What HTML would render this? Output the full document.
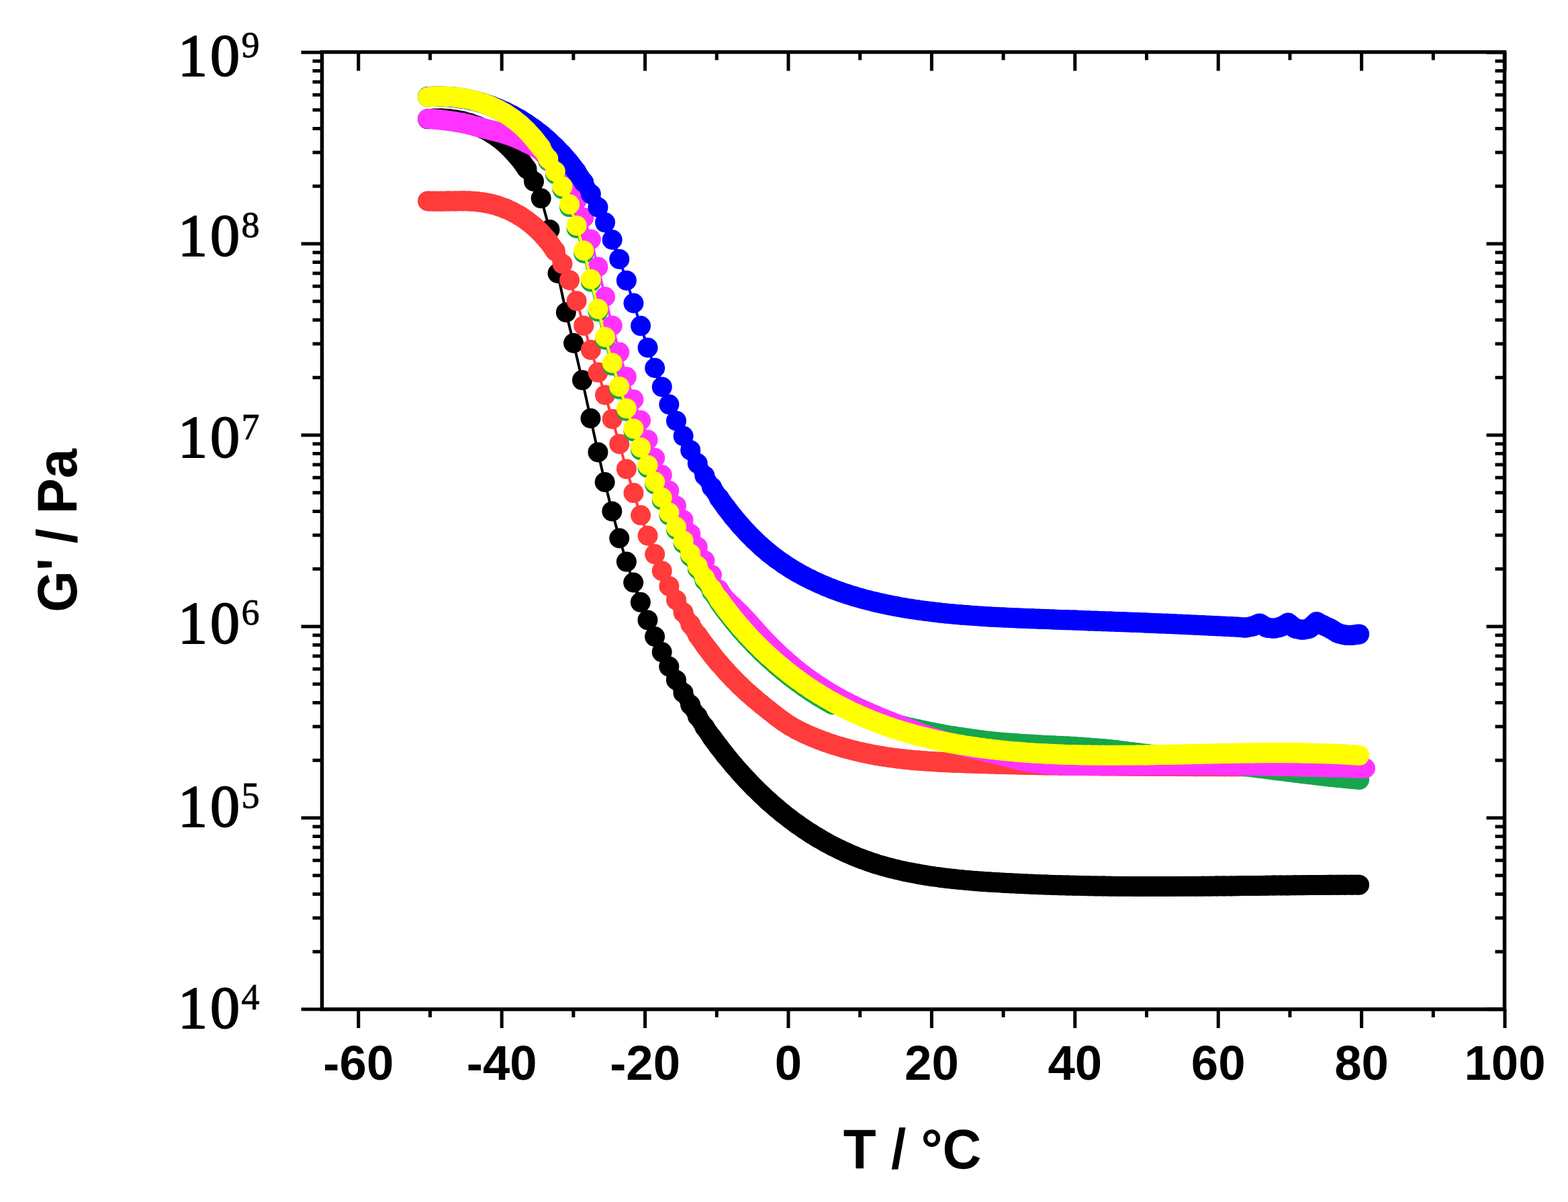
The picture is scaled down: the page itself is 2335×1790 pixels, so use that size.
<!DOCTYPE html>
<html><head><meta charset="utf-8"><title>G' vs T</title>
<style>html,body{margin:0;padding:0;background:#fff;width:2335px;height:1790px;overflow:hidden}svg{display:block}</style>
</head><body>
<svg xmlns="http://www.w3.org/2000/svg" width="2335" height="1790" viewBox="0 0 2335 1790">
<rect width="2335" height="1790" fill="#fff"/>
<g><g fill="none" stroke="#000000"><path d="M637.0,177.3L646.8,176.6" stroke-width="30.0"/><path d="M646.8,176.6L657.4,176.5" stroke-width="30.0"/><path d="M657.4,176.5L668.0,177.1" stroke-width="30.0"/><path d="M668.0,177.1L678.6,178.5" stroke-width="30.0"/><path d="M678.6,178.5L689.2,180.6" stroke-width="30.0"/><path d="M689.2,180.6L699.8,183.6" stroke-width="30.0"/><path d="M699.8,183.6L710.4,187.5" stroke-width="30.0"/><path d="M710.4,187.5L721.0,192.3" stroke-width="30.0"/><path d="M721.0,192.3L731.6,198.3" stroke-width="30.0"/><path d="M731.6,198.3L742.2,205.4" stroke-width="30.0"/><path d="M742.2,205.4L752.7,214.0" stroke-width="30.0"/><path d="M752.7,214.0L763.3,224.3" stroke-width="30.0"/><path d="M763.3,224.3L773.9,236.5" stroke-width="30.0"/><path d="M773.9,236.5L784.5,251.5" stroke-width="29.4"/><path d="M784.5,251.5L795.1,270.2" stroke-width="23.4"/><path d="M795.1,270.2L805.7,295.3" stroke-width="12.9"/><path d="M805.7,295.3L818.5,341.9" stroke-width="4.0"/><path d="M818.5,341.9L830.5,407.0" stroke-width="4.0"/><path d="M830.5,407.0L842.9,465.2" stroke-width="4.0"/><path d="M842.9,465.2L854.1,511.0" stroke-width="4.0"/><path d="M854.1,511.0L867.0,566.1" stroke-width="4.0"/><path d="M867.0,566.1L879.5,623.0" stroke-width="4.0"/><path d="M879.5,623.0L890.5,673.4" stroke-width="4.0"/><path d="M890.5,673.4L900.7,718.0" stroke-width="4.0"/><path d="M900.7,718.0L911.4,761.4" stroke-width="4.0"/><path d="M911.4,761.4L922.3,801.5" stroke-width="4.0"/><path d="M922.3,801.5L932.9,836.6" stroke-width="4.0"/><path d="M932.9,836.6L943.2,867.5" stroke-width="4.0"/><path d="M943.2,867.5L953.9,896.8" stroke-width="5.5"/><path d="M953.9,896.8L964.5,923.4" stroke-width="10.2"/><path d="M964.5,923.4L975.1,948.1" stroke-width="13.6"/><path d="M975.1,948.1L985.7,971.1" stroke-width="16.4"/><path d="M985.7,971.1L996.3,992.6" stroke-width="18.9"/><path d="M996.3,992.6L1006.9,1012.7" stroke-width="21.1"/><path d="M1006.9,1012.7L1017.5,1031.7" stroke-width="23.1"/><path d="M1017.5,1031.7L1028.1,1049.6" stroke-width="24.8"/><path d="M1028.1,1049.6L1038.7,1066.5" stroke-width="26.4"/><path d="M1038.7,1066.5L1049.3,1082.5" stroke-width="27.8"/><path d="M1049.3,1082.5L1059.8,1097.6" stroke-width="29.1"/><path d="M1059.8,1097.6L1070.4,1111.9" stroke-width="30.0"/><path d="M1070.4,1111.9L1081.0,1125.5" stroke-width="30.0"/><path d="M1081.0,1125.5L1091.6,1138.3" stroke-width="30.0"/><path d="M1091.6,1138.3L1102.2,1150.5" stroke-width="30.0"/><path d="M1102.2,1150.5L1112.8,1162.0" stroke-width="30.0"/><path d="M1112.8,1162.0L1123.4,1173.0" stroke-width="30.0"/><path d="M1123.4,1173.0L1134.0,1183.3" stroke-width="30.0"/><path d="M1134.0,1183.3L1144.6,1193.2" stroke-width="30.0"/><path d="M1144.6,1193.2L1155.2,1202.4" stroke-width="30.0"/><path d="M1155.2,1202.4L1165.8,1211.2" stroke-width="30.0"/><path d="M1165.8,1211.2L1176.4,1219.5" stroke-width="30.0"/><path d="M1176.4,1219.5L1187.0,1227.3" stroke-width="30.0"/><path d="M1187.0,1227.3L1197.6,1234.7" stroke-width="30.0"/><path d="M1197.6,1234.7L1208.2,1241.6" stroke-width="30.0"/><path d="M1208.2,1241.6L1218.8,1248.1" stroke-width="30.0"/><path d="M1218.8,1248.1L1229.4,1254.2" stroke-width="30.0"/><path d="M1229.4,1254.2L1240.0,1259.9" stroke-width="30.0"/><path d="M1240.0,1259.9L1250.6,1265.2" stroke-width="30.0"/><path d="M1250.6,1265.2L1261.2,1270.1" stroke-width="30.0"/><path d="M1261.2,1270.1L1271.8,1274.7" stroke-width="30.0"/><path d="M1271.8,1274.7L1282.3,1278.9" stroke-width="30.0"/><path d="M1282.3,1278.9L1292.9,1282.7" stroke-width="30.0"/><path d="M1292.9,1282.7L1303.5,1286.3" stroke-width="30.0"/><path d="M1303.5,1286.3L1314.1,1289.5" stroke-width="30.0"/><path d="M1314.1,1289.5L1324.7,1292.4" stroke-width="30.0"/><path d="M1324.7,1292.4L1335.3,1295.0" stroke-width="30.0"/><path d="M1335.3,1295.0L1345.9,1297.5" stroke-width="30.0"/><path d="M1345.9,1297.5L1356.5,1299.6" stroke-width="30.0"/><path d="M1356.5,1299.6L1367.1,1301.6" stroke-width="30.0"/><path d="M1367.1,1301.6L1377.7,1303.4" stroke-width="30.0"/><path d="M1377.7,1303.4L1388.3,1305.1" stroke-width="30.0"/><path d="M1388.3,1305.1L1398.9,1306.5" stroke-width="30.0"/><path d="M1398.9,1306.5L1409.5,1307.8" stroke-width="30.0"/><path d="M1409.5,1307.8L1420.1,1309.0" stroke-width="30.0"/><path d="M1420.1,1309.0L1430.7,1310.1" stroke-width="30.0"/><path d="M1430.7,1310.1L1441.3,1311.1" stroke-width="30.0"/><path d="M1441.3,1311.1L1451.9,1312.0" stroke-width="30.0"/><path d="M1451.9,1312.0L1462.5,1312.8" stroke-width="30.0"/><path d="M1462.5,1312.8L1473.1,1313.5" stroke-width="30.0"/><path d="M1473.1,1313.5L1483.7,1314.1" stroke-width="30.0"/><path d="M1483.7,1314.1L1494.2,1314.7" stroke-width="30.0"/><path d="M1494.2,1314.7L1504.8,1315.3" stroke-width="30.0"/><path d="M1504.8,1315.3L1515.4,1315.8" stroke-width="30.0"/><path d="M1515.4,1315.8L1526.0,1316.3" stroke-width="30.0"/><path d="M1526.0,1316.3L1536.6,1316.8" stroke-width="30.0"/><path d="M1536.6,1316.8L1547.2,1317.2" stroke-width="30.0"/><path d="M1547.2,1317.2L1557.8,1317.6" stroke-width="30.0"/><path d="M1557.8,1317.6L1568.4,1318.0" stroke-width="30.0"/><path d="M1568.4,1318.0L1579.0,1318.3" stroke-width="30.0"/><path d="M1579.0,1318.3L1589.6,1318.6" stroke-width="30.0"/><path d="M1589.6,1318.6L1600.2,1318.8" stroke-width="30.0"/><path d="M1600.2,1318.8L1610.8,1319.1" stroke-width="30.0"/><path d="M1610.8,1319.1L1621.4,1319.3" stroke-width="30.0"/><path d="M1621.4,1319.3L1632.0,1319.5" stroke-width="30.0"/><path d="M1632.0,1319.5L1642.6,1319.6" stroke-width="30.0"/><path d="M1642.6,1319.6L1653.2,1319.8" stroke-width="30.0"/><path d="M1653.2,1319.8L1663.8,1319.9" stroke-width="30.0"/><path d="M1663.8,1319.9L1674.4,1320.0" stroke-width="30.0"/><path d="M1674.4,1320.0L1685.0,1320.1" stroke-width="30.0"/><path d="M1685.0,1320.1L1695.6,1320.1" stroke-width="30.0"/><path d="M1695.6,1320.1L1706.1,1320.1" stroke-width="30.0"/><path d="M1706.1,1320.1L1716.7,1320.1" stroke-width="30.0"/><path d="M1716.7,1320.1L1727.3,1320.1" stroke-width="30.0"/><path d="M1727.3,1320.1L1737.9,1320.1" stroke-width="30.0"/><path d="M1737.9,1320.1L1748.5,1320.1" stroke-width="30.0"/><path d="M1748.5,1320.1L1759.1,1320.0" stroke-width="30.0"/><path d="M1759.1,1320.0L1769.7,1319.9" stroke-width="30.0"/><path d="M1769.7,1319.9L1780.3,1319.9" stroke-width="30.0"/><path d="M1780.3,1319.9L1790.9,1319.8" stroke-width="30.0"/><path d="M1790.9,1319.8L1801.5,1319.7" stroke-width="30.0"/><path d="M1801.5,1319.7L1812.1,1319.6" stroke-width="30.0"/><path d="M1812.1,1319.6L1822.7,1319.5" stroke-width="30.0"/><path d="M1822.7,1319.5L1833.3,1319.4" stroke-width="30.0"/><path d="M1833.3,1319.4L1843.9,1319.2" stroke-width="30.0"/><path d="M1843.9,1319.2L1854.5,1319.1" stroke-width="30.0"/><path d="M1854.5,1319.1L1865.1,1319.0" stroke-width="30.0"/><path d="M1865.1,1319.0L1875.7,1318.9" stroke-width="30.0"/><path d="M1875.7,1318.9L1886.3,1318.7" stroke-width="30.0"/><path d="M1886.3,1318.7L1896.9,1318.6" stroke-width="30.0"/><path d="M1896.9,1318.6L1907.5,1318.5" stroke-width="30.0"/><path d="M1907.5,1318.5L1918.0,1318.4" stroke-width="30.0"/><path d="M1918.0,1318.4L1928.6,1318.3" stroke-width="30.0"/><path d="M1928.6,1318.3L1939.2,1318.2" stroke-width="30.0"/><path d="M1939.2,1318.2L1949.8,1318.1" stroke-width="30.0"/><path d="M1949.8,1318.1L1960.4,1318.0" stroke-width="30.0"/><path d="M1960.4,1318.0L1971.0,1317.9" stroke-width="30.0"/><path d="M1971.0,1317.9L1981.6,1317.8" stroke-width="30.0"/><path d="M1981.6,1317.8L1992.2,1317.8" stroke-width="30.0"/><path d="M1992.2,1317.8L2002.8,1317.7" stroke-width="30.0"/><path d="M2002.8,1317.7L2013.4,1317.7" stroke-width="30.0"/><path d="M2013.4,1317.7L2024.0,1317.7" stroke-width="30.0"/></g><g fill="#000000"><circle cx="637.0" cy="177.3" r="15.0"/><circle cx="646.8" cy="176.6" r="15.0"/><circle cx="657.4" cy="176.5" r="15.0"/><circle cx="668.0" cy="177.1" r="15.0"/><circle cx="678.6" cy="178.5" r="15.0"/><circle cx="689.2" cy="180.6" r="15.0"/><circle cx="699.8" cy="183.6" r="15.0"/><circle cx="710.4" cy="187.5" r="15.0"/><circle cx="721.0" cy="192.3" r="15.0"/><circle cx="731.6" cy="198.3" r="15.0"/><circle cx="742.2" cy="205.4" r="15.0"/><circle cx="752.7" cy="214.0" r="15.0"/><circle cx="763.3" cy="224.3" r="15.0"/><circle cx="773.9" cy="236.5" r="15.0"/><circle cx="784.5" cy="251.5" r="15.0"/><circle cx="795.1" cy="270.2" r="15.0"/><circle cx="805.7" cy="295.3" r="15.0"/><circle cx="818.5" cy="341.9" r="15.0"/><circle cx="830.5" cy="407.0" r="15.0"/><circle cx="842.9" cy="465.2" r="15.0"/><circle cx="854.1" cy="511.0" r="15.0"/><circle cx="867.0" cy="566.1" r="15.0"/><circle cx="879.5" cy="623.0" r="15.0"/><circle cx="890.5" cy="673.4" r="15.0"/><circle cx="900.7" cy="718.0" r="15.0"/><circle cx="911.4" cy="761.4" r="15.0"/><circle cx="922.3" cy="801.5" r="15.0"/><circle cx="932.9" cy="836.6" r="15.0"/><circle cx="943.2" cy="867.5" r="15.0"/><circle cx="953.9" cy="896.8" r="15.0"/><circle cx="964.5" cy="923.4" r="15.0"/><circle cx="975.1" cy="948.1" r="15.0"/><circle cx="985.7" cy="971.1" r="15.0"/><circle cx="996.3" cy="992.6" r="15.0"/><circle cx="1006.9" cy="1012.7" r="15.0"/><circle cx="1017.5" cy="1031.7" r="15.0"/><circle cx="1028.1" cy="1049.6" r="15.0"/><circle cx="1038.7" cy="1066.5" r="15.0"/><circle cx="1049.3" cy="1082.5" r="15.0"/><circle cx="1059.8" cy="1097.6" r="15.0"/><circle cx="1070.4" cy="1111.9" r="15.0"/><circle cx="1081.0" cy="1125.5" r="15.0"/><circle cx="1091.6" cy="1138.3" r="15.0"/><circle cx="1102.2" cy="1150.5" r="15.0"/><circle cx="1112.8" cy="1162.0" r="15.0"/><circle cx="1123.4" cy="1173.0" r="15.0"/><circle cx="1134.0" cy="1183.3" r="15.0"/><circle cx="1144.6" cy="1193.2" r="15.0"/><circle cx="1155.2" cy="1202.4" r="15.0"/><circle cx="1165.8" cy="1211.2" r="15.0"/><circle cx="1176.4" cy="1219.5" r="15.0"/><circle cx="1187.0" cy="1227.3" r="15.0"/><circle cx="1197.6" cy="1234.7" r="15.0"/><circle cx="1208.2" cy="1241.6" r="15.0"/><circle cx="1218.8" cy="1248.1" r="15.0"/><circle cx="1229.4" cy="1254.2" r="15.0"/><circle cx="1240.0" cy="1259.9" r="15.0"/><circle cx="1250.6" cy="1265.2" r="15.0"/><circle cx="1261.2" cy="1270.1" r="15.0"/><circle cx="1271.8" cy="1274.7" r="15.0"/><circle cx="1282.3" cy="1278.9" r="15.0"/><circle cx="1292.9" cy="1282.7" r="15.0"/><circle cx="1303.5" cy="1286.3" r="15.0"/><circle cx="1314.1" cy="1289.5" r="15.0"/><circle cx="1324.7" cy="1292.4" r="15.0"/><circle cx="1335.3" cy="1295.0" r="15.0"/><circle cx="1345.9" cy="1297.5" r="15.0"/><circle cx="1356.5" cy="1299.6" r="15.0"/><circle cx="1367.1" cy="1301.6" r="15.0"/><circle cx="1377.7" cy="1303.4" r="15.0"/><circle cx="1388.3" cy="1305.1" r="15.0"/><circle cx="1398.9" cy="1306.5" r="15.0"/><circle cx="1409.5" cy="1307.8" r="15.0"/><circle cx="1420.1" cy="1309.0" r="15.0"/><circle cx="1430.7" cy="1310.1" r="15.0"/><circle cx="1441.3" cy="1311.1" r="15.0"/><circle cx="1451.9" cy="1312.0" r="15.0"/><circle cx="1462.5" cy="1312.8" r="15.0"/><circle cx="1473.1" cy="1313.5" r="15.0"/><circle cx="1483.7" cy="1314.1" r="15.0"/><circle cx="1494.2" cy="1314.7" r="15.0"/><circle cx="1504.8" cy="1315.3" r="15.0"/><circle cx="1515.4" cy="1315.8" r="15.0"/><circle cx="1526.0" cy="1316.3" r="15.0"/><circle cx="1536.6" cy="1316.8" r="15.0"/><circle cx="1547.2" cy="1317.2" r="15.0"/><circle cx="1557.8" cy="1317.6" r="15.0"/><circle cx="1568.4" cy="1318.0" r="15.0"/><circle cx="1579.0" cy="1318.3" r="15.0"/><circle cx="1589.6" cy="1318.6" r="15.0"/><circle cx="1600.2" cy="1318.8" r="15.0"/><circle cx="1610.8" cy="1319.1" r="15.0"/><circle cx="1621.4" cy="1319.3" r="15.0"/><circle cx="1632.0" cy="1319.5" r="15.0"/><circle cx="1642.6" cy="1319.6" r="15.0"/><circle cx="1653.2" cy="1319.8" r="15.0"/><circle cx="1663.8" cy="1319.9" r="15.0"/><circle cx="1674.4" cy="1320.0" r="15.0"/><circle cx="1685.0" cy="1320.1" r="15.0"/><circle cx="1695.6" cy="1320.1" r="15.0"/><circle cx="1706.1" cy="1320.1" r="15.0"/><circle cx="1716.7" cy="1320.1" r="15.0"/><circle cx="1727.3" cy="1320.1" r="15.0"/><circle cx="1737.9" cy="1320.1" r="15.0"/><circle cx="1748.5" cy="1320.1" r="15.0"/><circle cx="1759.1" cy="1320.0" r="15.0"/><circle cx="1769.7" cy="1319.9" r="15.0"/><circle cx="1780.3" cy="1319.9" r="15.0"/><circle cx="1790.9" cy="1319.8" r="15.0"/><circle cx="1801.5" cy="1319.7" r="15.0"/><circle cx="1812.1" cy="1319.6" r="15.0"/><circle cx="1822.7" cy="1319.5" r="15.0"/><circle cx="1833.3" cy="1319.4" r="15.0"/><circle cx="1843.9" cy="1319.2" r="15.0"/><circle cx="1854.5" cy="1319.1" r="15.0"/><circle cx="1865.1" cy="1319.0" r="15.0"/><circle cx="1875.7" cy="1318.9" r="15.0"/><circle cx="1886.3" cy="1318.7" r="15.0"/><circle cx="1896.9" cy="1318.6" r="15.0"/><circle cx="1907.5" cy="1318.5" r="15.0"/><circle cx="1918.0" cy="1318.4" r="15.0"/><circle cx="1928.6" cy="1318.3" r="15.0"/><circle cx="1939.2" cy="1318.2" r="15.0"/><circle cx="1949.8" cy="1318.1" r="15.0"/><circle cx="1960.4" cy="1318.0" r="15.0"/><circle cx="1971.0" cy="1317.9" r="15.0"/><circle cx="1981.6" cy="1317.8" r="15.0"/><circle cx="1992.2" cy="1317.8" r="15.0"/><circle cx="2002.8" cy="1317.7" r="15.0"/><circle cx="2013.4" cy="1317.7" r="15.0"/><circle cx="2024.0" cy="1317.7" r="15.0"/></g><g fill="none" stroke="#FF3B3B"><path d="M637.0,299.4L646.8,299.7" stroke-width="30.0"/><path d="M646.8,299.7L657.4,299.7" stroke-width="30.0"/><path d="M657.4,299.7L668.0,299.5" stroke-width="30.0"/><path d="M668.0,299.5L678.6,299.4" stroke-width="30.0"/><path d="M678.6,299.4L689.2,299.3" stroke-width="30.0"/><path d="M689.2,299.3L699.8,299.6" stroke-width="30.0"/><path d="M699.8,299.6L710.4,300.3" stroke-width="30.0"/><path d="M710.4,300.3L721.0,301.7" stroke-width="30.0"/><path d="M721.0,301.7L731.6,303.8" stroke-width="30.0"/><path d="M731.6,303.8L742.2,306.8" stroke-width="30.0"/><path d="M742.2,306.8L752.7,310.6" stroke-width="30.0"/><path d="M752.7,310.6L763.3,315.5" stroke-width="30.0"/><path d="M763.3,315.5L773.9,321.3" stroke-width="30.0"/><path d="M773.9,321.3L784.5,328.4" stroke-width="30.0"/><path d="M784.5,328.4L795.1,336.8" stroke-width="30.0"/><path d="M795.1,336.8L805.7,346.9" stroke-width="30.0"/><path d="M805.7,346.9L816.3,359.0" stroke-width="30.0"/><path d="M816.3,359.0L826.9,373.9" stroke-width="29.4"/><path d="M826.9,373.9L837.5,392.9" stroke-width="23.1"/><path d="M837.5,392.9L848.1,417.2" stroke-width="14.1"/><path d="M848.1,417.2L858.7,448.2" stroke-width="4.0"/><path d="M858.7,448.2L869.3,484.9" stroke-width="4.0"/><path d="M869.3,484.9L879.9,521.1" stroke-width="4.0"/><path d="M879.9,521.1L890.5,554.6" stroke-width="4.0"/><path d="M890.5,554.6L901.1,588.2" stroke-width="4.0"/><path d="M901.1,588.2L911.7,623.9" stroke-width="4.0"/><path d="M911.7,623.9L922.3,661.2" stroke-width="4.0"/><path d="M922.3,661.2L932.9,698.4" stroke-width="4.0"/><path d="M932.9,698.4L943.5,734.1" stroke-width="4.0"/><path d="M943.5,734.1L954.1,767.3" stroke-width="4.0"/><path d="M954.1,767.3L964.6,797.7" stroke-width="4.0"/><path d="M964.6,797.7L975.2,825.3" stroke-width="8.6"/><path d="M975.2,825.3L985.8,850.2" stroke-width="13.1"/><path d="M985.8,850.2L996.4,872.9" stroke-width="17.0"/><path d="M996.4,872.9L1007.0,893.4" stroke-width="20.5"/><path d="M1007.0,893.4L1017.6,912.2" stroke-width="23.3"/><path d="M1017.6,912.2L1028.2,929.6" stroke-width="25.7"/><path d="M1028.2,929.6L1038.8,945.6" stroke-width="27.7"/><path d="M1038.8,945.6L1049.4,960.5" stroke-width="29.5"/><path d="M1049.4,960.5L1060.0,974.4" stroke-width="30.0"/><path d="M1060.0,974.4L1070.6,987.4" stroke-width="30.0"/><path d="M1070.6,987.4L1081.2,999.4" stroke-width="30.0"/><path d="M1081.2,999.4L1091.8,1010.7" stroke-width="30.0"/><path d="M1091.8,1010.7L1102.4,1021.3" stroke-width="30.0"/><path d="M1102.4,1021.3L1113.0,1031.2" stroke-width="30.0"/><path d="M1113.0,1031.2L1123.6,1040.4" stroke-width="30.0"/><path d="M1123.6,1040.4L1134.2,1049.2" stroke-width="30.0"/><path d="M1134.2,1049.2L1144.8,1057.7" stroke-width="30.0"/><path d="M1144.8,1057.7L1155.4,1066.1" stroke-width="30.0"/><path d="M1155.4,1066.1L1166.0,1074.0" stroke-width="30.0"/><path d="M1166.0,1074.0L1176.5,1081.0" stroke-width="30.0"/><path d="M1176.5,1081.0L1187.1,1086.9" stroke-width="30.0"/><path d="M1187.1,1086.9L1197.7,1092.2" stroke-width="30.0"/><path d="M1197.7,1092.2L1208.3,1096.9" stroke-width="30.0"/><path d="M1208.3,1096.9L1218.9,1101.2" stroke-width="30.0"/><path d="M1218.9,1101.2L1229.5,1105.1" stroke-width="30.0"/><path d="M1229.5,1105.1L1240.1,1108.7" stroke-width="30.0"/><path d="M1240.1,1108.7L1250.7,1112.0" stroke-width="30.0"/><path d="M1250.7,1112.0L1261.3,1115.0" stroke-width="30.0"/><path d="M1261.3,1115.0L1271.9,1117.7" stroke-width="30.0"/><path d="M1271.9,1117.7L1282.5,1120.3" stroke-width="30.0"/><path d="M1282.5,1120.3L1293.1,1122.5" stroke-width="30.0"/><path d="M1293.1,1122.5L1303.7,1124.6" stroke-width="30.0"/><path d="M1303.7,1124.6L1314.3,1126.4" stroke-width="30.0"/><path d="M1314.3,1126.4L1324.9,1128.0" stroke-width="30.0"/><path d="M1324.9,1128.0L1335.5,1129.4" stroke-width="30.0"/><path d="M1335.5,1129.4L1346.1,1130.6" stroke-width="30.0"/><path d="M1346.1,1130.6L1356.7,1131.7" stroke-width="30.0"/><path d="M1356.7,1131.7L1367.3,1132.6" stroke-width="30.0"/><path d="M1367.3,1132.6L1377.9,1133.4" stroke-width="30.0"/><path d="M1377.9,1133.4L1388.4,1134.1" stroke-width="30.0"/><path d="M1388.4,1134.1L1399.0,1134.7" stroke-width="30.0"/><path d="M1399.0,1134.7L1409.6,1135.2" stroke-width="30.0"/><path d="M1409.6,1135.2L1420.2,1135.7" stroke-width="30.0"/><path d="M1420.2,1135.7L1430.8,1136.1" stroke-width="30.0"/><path d="M1430.8,1136.1L1441.4,1136.4" stroke-width="30.0"/><path d="M1441.4,1136.4L1452.0,1136.8" stroke-width="30.0"/><path d="M1452.0,1136.8L1462.6,1137.1" stroke-width="30.0"/><path d="M1462.6,1137.1L1473.2,1137.4" stroke-width="30.0"/><path d="M1473.2,1137.4L1483.8,1137.7" stroke-width="30.0"/><path d="M1483.8,1137.7L1494.4,1138.0" stroke-width="30.0"/><path d="M1494.4,1138.0L1505.0,1138.3" stroke-width="30.0"/><path d="M1505.0,1138.3L1515.6,1138.5" stroke-width="30.0"/><path d="M1515.6,1138.5L1526.2,1138.8" stroke-width="30.0"/><path d="M1526.2,1138.8L1536.8,1139.0" stroke-width="30.0"/><path d="M1536.8,1139.0L1547.4,1139.2" stroke-width="30.0"/><path d="M1547.4,1139.2L1558.0,1139.4" stroke-width="30.0"/><path d="M1558.0,1139.4L1568.6,1139.5" stroke-width="30.0"/><path d="M1568.6,1139.5L1579.2,1139.7" stroke-width="30.0"/><path d="M1579.2,1139.7L1589.8,1139.8" stroke-width="30.0"/><path d="M1589.8,1139.8L1600.3,1140.0" stroke-width="30.0"/><path d="M1600.3,1140.0L1610.9,1140.1" stroke-width="30.0"/><path d="M1610.9,1140.1L1621.5,1140.2" stroke-width="30.0"/><path d="M1621.5,1140.2L1632.1,1140.3" stroke-width="30.0"/><path d="M1632.1,1140.3L1642.7,1140.4" stroke-width="30.0"/><path d="M1642.7,1140.4L1653.3,1140.5" stroke-width="30.0"/><path d="M1653.3,1140.5L1663.9,1140.6" stroke-width="30.0"/><path d="M1663.9,1140.6L1674.5,1140.7" stroke-width="30.0"/><path d="M1674.5,1140.7L1685.1,1140.8" stroke-width="30.0"/><path d="M1685.1,1140.8L1695.7,1140.8" stroke-width="30.0"/><path d="M1695.7,1140.8L1706.3,1140.9" stroke-width="30.0"/><path d="M1706.3,1140.9L1716.9,1140.9" stroke-width="30.0"/><path d="M1716.9,1140.9L1727.5,1141.0" stroke-width="30.0"/><path d="M1727.5,1141.0L1738.1,1141.0" stroke-width="30.0"/><path d="M1738.1,1141.0L1748.7,1141.1" stroke-width="30.0"/><path d="M1748.7,1141.1L1759.3,1141.1" stroke-width="30.0"/><path d="M1759.3,1141.1L1769.9,1141.1" stroke-width="30.0"/><path d="M1769.9,1141.1L1780.5,1141.2" stroke-width="30.0"/><path d="M1780.5,1141.2L1791.1,1141.2" stroke-width="30.0"/><path d="M1791.1,1141.2L1801.7,1141.2" stroke-width="30.0"/><path d="M1801.7,1141.2L1812.2,1141.2" stroke-width="30.0"/><path d="M1812.2,1141.2L1822.8,1141.3" stroke-width="30.0"/><path d="M1822.8,1141.3L1833.4,1141.3" stroke-width="30.0"/><path d="M1833.4,1141.3L1844.0,1141.3" stroke-width="30.0"/><path d="M1844.0,1141.3L1854.6,1141.3" stroke-width="30.0"/><path d="M1854.6,1141.3L1865.2,1141.3" stroke-width="30.0"/><path d="M1865.2,1141.3L1875.8,1141.3" stroke-width="30.0"/><path d="M1875.8,1141.3L1886.4,1141.4" stroke-width="30.0"/><path d="M1886.4,1141.4L1897.0,1141.4" stroke-width="30.0"/><path d="M1897.0,1141.4L1907.6,1141.4" stroke-width="30.0"/><path d="M1907.6,1141.4L1918.2,1141.4" stroke-width="30.0"/><path d="M1918.2,1141.4L1928.8,1141.5" stroke-width="30.0"/><path d="M1928.8,1141.5L1939.4,1141.5" stroke-width="30.0"/><path d="M1939.4,1141.5L1950.0,1141.5" stroke-width="30.0"/><path d="M1950.0,1141.5L1960.6,1141.5" stroke-width="30.0"/><path d="M1960.6,1141.5L1971.2,1141.6" stroke-width="30.0"/><path d="M1971.2,1141.6L1981.8,1141.6" stroke-width="30.0"/><path d="M1981.8,1141.6L1992.4,1141.7" stroke-width="30.0"/><path d="M1992.4,1141.7L2003.0,1141.7" stroke-width="30.0"/><path d="M2003.0,1141.7L2013.6,1141.8" stroke-width="30.0"/><path d="M2013.6,1141.8L2024.1,1141.9" stroke-width="30.0"/></g><g fill="#FF3B3B"><circle cx="637.0" cy="299.4" r="15.0"/><circle cx="646.8" cy="299.7" r="15.0"/><circle cx="657.4" cy="299.7" r="15.0"/><circle cx="668.0" cy="299.5" r="15.0"/><circle cx="678.6" cy="299.4" r="15.0"/><circle cx="689.2" cy="299.3" r="15.0"/><circle cx="699.8" cy="299.6" r="15.0"/><circle cx="710.4" cy="300.3" r="15.0"/><circle cx="721.0" cy="301.7" r="15.0"/><circle cx="731.6" cy="303.8" r="15.0"/><circle cx="742.2" cy="306.8" r="15.0"/><circle cx="752.7" cy="310.6" r="15.0"/><circle cx="763.3" cy="315.5" r="15.0"/><circle cx="773.9" cy="321.3" r="15.0"/><circle cx="784.5" cy="328.4" r="15.0"/><circle cx="795.1" cy="336.8" r="15.0"/><circle cx="805.7" cy="346.9" r="15.0"/><circle cx="816.3" cy="359.0" r="15.0"/><circle cx="826.9" cy="373.9" r="15.0"/><circle cx="837.5" cy="392.9" r="15.0"/><circle cx="848.1" cy="417.2" r="15.0"/><circle cx="858.7" cy="448.2" r="15.0"/><circle cx="869.3" cy="484.9" r="15.0"/><circle cx="879.9" cy="521.1" r="15.0"/><circle cx="890.5" cy="554.6" r="15.0"/><circle cx="901.1" cy="588.2" r="15.0"/><circle cx="911.7" cy="623.9" r="15.0"/><circle cx="922.3" cy="661.2" r="15.0"/><circle cx="932.9" cy="698.4" r="15.0"/><circle cx="943.5" cy="734.1" r="15.0"/><circle cx="954.1" cy="767.3" r="15.0"/><circle cx="964.6" cy="797.7" r="15.0"/><circle cx="975.2" cy="825.3" r="15.0"/><circle cx="985.8" cy="850.2" r="15.0"/><circle cx="996.4" cy="872.9" r="15.0"/><circle cx="1007.0" cy="893.4" r="15.0"/><circle cx="1017.6" cy="912.2" r="15.0"/><circle cx="1028.2" cy="929.6" r="15.0"/><circle cx="1038.8" cy="945.6" r="15.0"/><circle cx="1049.4" cy="960.5" r="15.0"/><circle cx="1060.0" cy="974.4" r="15.0"/><circle cx="1070.6" cy="987.4" r="15.0"/><circle cx="1081.2" cy="999.4" r="15.0"/><circle cx="1091.8" cy="1010.7" r="15.0"/><circle cx="1102.4" cy="1021.3" r="15.0"/><circle cx="1113.0" cy="1031.2" r="15.0"/><circle cx="1123.6" cy="1040.4" r="15.0"/><circle cx="1134.2" cy="1049.2" r="15.0"/><circle cx="1144.8" cy="1057.7" r="15.0"/><circle cx="1155.4" cy="1066.1" r="15.0"/><circle cx="1166.0" cy="1074.0" r="15.0"/><circle cx="1176.5" cy="1081.0" r="15.0"/><circle cx="1187.1" cy="1086.9" r="15.0"/><circle cx="1197.7" cy="1092.2" r="15.0"/><circle cx="1208.3" cy="1096.9" r="15.0"/><circle cx="1218.9" cy="1101.2" r="15.0"/><circle cx="1229.5" cy="1105.1" r="15.0"/><circle cx="1240.1" cy="1108.7" r="15.0"/><circle cx="1250.7" cy="1112.0" r="15.0"/><circle cx="1261.3" cy="1115.0" r="15.0"/><circle cx="1271.9" cy="1117.7" r="15.0"/><circle cx="1282.5" cy="1120.3" r="15.0"/><circle cx="1293.1" cy="1122.5" r="15.0"/><circle cx="1303.7" cy="1124.6" r="15.0"/><circle cx="1314.3" cy="1126.4" r="15.0"/><circle cx="1324.9" cy="1128.0" r="15.0"/><circle cx="1335.5" cy="1129.4" r="15.0"/><circle cx="1346.1" cy="1130.6" r="15.0"/><circle cx="1356.7" cy="1131.7" r="15.0"/><circle cx="1367.3" cy="1132.6" r="15.0"/><circle cx="1377.9" cy="1133.4" r="15.0"/><circle cx="1388.4" cy="1134.1" r="15.0"/><circle cx="1399.0" cy="1134.7" r="15.0"/><circle cx="1409.6" cy="1135.2" r="15.0"/><circle cx="1420.2" cy="1135.7" r="15.0"/><circle cx="1430.8" cy="1136.1" r="15.0"/><circle cx="1441.4" cy="1136.4" r="15.0"/><circle cx="1452.0" cy="1136.8" r="15.0"/><circle cx="1462.6" cy="1137.1" r="15.0"/><circle cx="1473.2" cy="1137.4" r="15.0"/><circle cx="1483.8" cy="1137.7" r="15.0"/><circle cx="1494.4" cy="1138.0" r="15.0"/><circle cx="1505.0" cy="1138.3" r="15.0"/><circle cx="1515.6" cy="1138.5" r="15.0"/><circle cx="1526.2" cy="1138.8" r="15.0"/><circle cx="1536.8" cy="1139.0" r="15.0"/><circle cx="1547.4" cy="1139.2" r="15.0"/><circle cx="1558.0" cy="1139.4" r="15.0"/><circle cx="1568.6" cy="1139.5" r="15.0"/><circle cx="1579.2" cy="1139.7" r="15.0"/><circle cx="1589.8" cy="1139.8" r="15.0"/><circle cx="1600.3" cy="1140.0" r="15.0"/><circle cx="1610.9" cy="1140.1" r="15.0"/><circle cx="1621.5" cy="1140.2" r="15.0"/><circle cx="1632.1" cy="1140.3" r="15.0"/><circle cx="1642.7" cy="1140.4" r="15.0"/><circle cx="1653.3" cy="1140.5" r="15.0"/><circle cx="1663.9" cy="1140.6" r="15.0"/><circle cx="1674.5" cy="1140.7" r="15.0"/><circle cx="1685.1" cy="1140.8" r="15.0"/><circle cx="1695.7" cy="1140.8" r="15.0"/><circle cx="1706.3" cy="1140.9" r="15.0"/><circle cx="1716.9" cy="1140.9" r="15.0"/><circle cx="1727.5" cy="1141.0" r="15.0"/><circle cx="1738.1" cy="1141.0" r="15.0"/><circle cx="1748.7" cy="1141.1" r="15.0"/><circle cx="1759.3" cy="1141.1" r="15.0"/><circle cx="1769.9" cy="1141.1" r="15.0"/><circle cx="1780.5" cy="1141.2" r="15.0"/><circle cx="1791.1" cy="1141.2" r="15.0"/><circle cx="1801.7" cy="1141.2" r="15.0"/><circle cx="1812.2" cy="1141.2" r="15.0"/><circle cx="1822.8" cy="1141.3" r="15.0"/><circle cx="1833.4" cy="1141.3" r="15.0"/><circle cx="1844.0" cy="1141.3" r="15.0"/><circle cx="1854.6" cy="1141.3" r="15.0"/><circle cx="1865.2" cy="1141.3" r="15.0"/><circle cx="1875.8" cy="1141.3" r="15.0"/><circle cx="1886.4" cy="1141.4" r="15.0"/><circle cx="1897.0" cy="1141.4" r="15.0"/><circle cx="1907.6" cy="1141.4" r="15.0"/><circle cx="1918.2" cy="1141.4" r="15.0"/><circle cx="1928.8" cy="1141.5" r="15.0"/><circle cx="1939.4" cy="1141.5" r="15.0"/><circle cx="1950.0" cy="1141.5" r="15.0"/><circle cx="1960.6" cy="1141.5" r="15.0"/><circle cx="1971.2" cy="1141.6" r="15.0"/><circle cx="1981.8" cy="1141.6" r="15.0"/><circle cx="1992.4" cy="1141.7" r="15.0"/><circle cx="2003.0" cy="1141.7" r="15.0"/><circle cx="2013.6" cy="1141.8" r="15.0"/><circle cx="2024.1" cy="1141.9" r="15.0"/></g><g fill="none" stroke="#17A54B"><path d="M637.0,144.4L646.8,143.8" stroke-width="30.0"/><path d="M646.8,143.8L657.4,143.6" stroke-width="30.0"/><path d="M657.4,143.6L668.0,143.9" stroke-width="30.0"/><path d="M668.0,143.9L678.6,144.8" stroke-width="30.0"/><path d="M678.6,144.8L689.2,146.3" stroke-width="30.0"/><path d="M689.2,146.3L699.8,148.3" stroke-width="30.0"/><path d="M699.8,148.3L710.4,151.0" stroke-width="30.0"/><path d="M710.4,151.0L721.0,154.3" stroke-width="30.0"/><path d="M721.0,154.3L731.6,158.5" stroke-width="30.0"/><path d="M731.6,158.5L742.2,163.4" stroke-width="30.0"/><path d="M742.2,163.4L752.7,169.3" stroke-width="30.0"/><path d="M752.7,169.3L763.3,176.4" stroke-width="30.0"/><path d="M763.3,176.4L773.9,184.7" stroke-width="30.0"/><path d="M773.9,184.7L784.5,195.1" stroke-width="30.0"/><path d="M784.5,195.1L795.1,207.9" stroke-width="30.0"/><path d="M795.1,207.9L805.7,222.7" stroke-width="29.6"/><path d="M805.7,222.7L816.3,239.9" stroke-width="25.8"/><path d="M816.3,239.9L826.9,259.3" stroke-width="22.4"/><path d="M826.9,259.3L837.5,281.7" stroke-width="17.4"/><path d="M837.5,281.7L848.1,308.3" stroke-width="10.4"/><path d="M848.1,308.3L858.7,339.9" stroke-width="4.0"/><path d="M858.7,339.9L869.3,377.2" stroke-width="4.0"/><path d="M869.3,377.2L879.9,419.7" stroke-width="4.0"/><path d="M879.9,419.7L890.5,464.1" stroke-width="4.0"/><path d="M890.5,464.1L901.1,506.0" stroke-width="4.0"/><path d="M901.1,506.0L911.7,544.4" stroke-width="4.0"/><path d="M911.7,544.4L922.3,579.7" stroke-width="4.0"/><path d="M922.3,579.7L932.9,612.2" stroke-width="4.0"/><path d="M932.9,612.2L943.5,642.4" stroke-width="4.1"/><path d="M943.5,642.4L954.1,670.4" stroke-width="7.7"/><path d="M954.1,670.4L964.6,696.7" stroke-width="10.8"/><path d="M964.6,696.7L975.2,721.5" stroke-width="13.4"/><path d="M975.2,721.5L985.8,745.0" stroke-width="15.6"/><path d="M985.8,745.0L996.4,767.4" stroke-width="17.5"/><path d="M996.4,767.4L1007.0,788.8" stroke-width="19.1"/><path d="M1007.0,788.8L1017.6,809.2" stroke-width="20.7"/><path d="M1017.6,809.2L1028.2,828.7" stroke-width="22.3"/><path d="M1028.2,828.7L1038.8,847.1" stroke-width="24.0"/><path d="M1038.8,847.1L1049.4,864.5" stroke-width="25.6"/><path d="M1049.4,864.5L1060.0,880.9" stroke-width="27.2"/><path d="M1060.0,880.9L1070.6,896.3" stroke-width="28.7"/><path d="M1070.6,896.3L1081.2,910.8" stroke-width="30.0"/><path d="M1081.2,910.8L1091.8,924.4" stroke-width="30.0"/><path d="M1091.8,924.4L1102.4,937.1" stroke-width="30.0"/><path d="M1102.4,937.1L1113.0,949.0" stroke-width="30.0"/><path d="M1113.0,949.0L1123.6,960.2" stroke-width="30.0"/><path d="M1123.6,960.2L1134.2,970.8" stroke-width="30.0"/><path d="M1134.2,970.8L1144.8,980.7" stroke-width="30.0"/><path d="M1144.8,980.7L1155.4,990.2" stroke-width="30.0"/><path d="M1155.4,990.2L1166.0,999.1" stroke-width="30.0"/><path d="M1166.0,999.1L1176.5,1007.5" stroke-width="30.0"/><path d="M1176.5,1007.5L1187.1,1015.5" stroke-width="30.0"/><path d="M1187.1,1015.5L1197.7,1023.1" stroke-width="30.0"/><path d="M1197.7,1023.1L1208.3,1030.3" stroke-width="30.0"/><path d="M1208.3,1030.3L1218.9,1037.1" stroke-width="30.0"/><path d="M1218.9,1037.1L1229.5,1043.5" stroke-width="30.0"/><path d="M1229.5,1043.5L1240.1,1049.5" stroke-width="30.0"/><path d="M1240.1,1049.5L1250.7,1046.4" stroke-width="30.0"/><path d="M1250.7,1046.4L1261.3,1052.1" stroke-width="30.0"/><path d="M1261.3,1052.1L1271.9,1057.4" stroke-width="30.0"/><path d="M1271.9,1057.4L1282.5,1062.2" stroke-width="30.0"/><path d="M1282.5,1062.2L1293.1,1066.5" stroke-width="30.0"/><path d="M1293.1,1066.5L1303.7,1070.2" stroke-width="30.0"/><path d="M1303.7,1070.2L1314.3,1073.4" stroke-width="30.0"/><path d="M1314.3,1073.4L1324.9,1076.2" stroke-width="30.0"/><path d="M1324.9,1076.2L1335.5,1078.9" stroke-width="30.0"/><path d="M1335.5,1078.9L1346.1,1081.5" stroke-width="30.0"/><path d="M1346.1,1081.5L1356.7,1084.0" stroke-width="30.0"/><path d="M1356.7,1084.0L1367.3,1086.3" stroke-width="30.0"/><path d="M1367.3,1086.3L1377.9,1088.6" stroke-width="30.0"/><path d="M1377.9,1088.6L1388.4,1090.7" stroke-width="30.0"/><path d="M1388.4,1090.7L1399.0,1092.7" stroke-width="30.0"/><path d="M1399.0,1092.7L1409.6,1094.7" stroke-width="30.0"/><path d="M1409.6,1094.7L1420.2,1096.5" stroke-width="30.0"/><path d="M1420.2,1096.5L1430.8,1098.1" stroke-width="30.0"/><path d="M1430.8,1098.1L1441.4,1099.7" stroke-width="30.0"/><path d="M1441.4,1099.7L1452.0,1101.2" stroke-width="30.0"/><path d="M1452.0,1101.2L1462.6,1102.6" stroke-width="30.0"/><path d="M1462.6,1102.6L1473.2,1103.8" stroke-width="30.0"/><path d="M1473.2,1103.8L1483.8,1105.0" stroke-width="30.0"/><path d="M1483.8,1105.0L1494.4,1105.9" stroke-width="30.0"/><path d="M1494.4,1105.9L1505.0,1106.8" stroke-width="30.0"/><path d="M1505.0,1106.8L1515.6,1107.5" stroke-width="30.0"/><path d="M1515.6,1107.5L1526.2,1108.2" stroke-width="30.0"/><path d="M1526.2,1108.2L1536.8,1108.8" stroke-width="30.0"/><path d="M1536.8,1108.8L1547.4,1109.4" stroke-width="30.0"/><path d="M1547.4,1109.4L1558.0,1109.9" stroke-width="30.0"/><path d="M1558.0,1109.9L1568.6,1110.4" stroke-width="30.0"/><path d="M1568.6,1110.4L1579.2,1110.9" stroke-width="30.0"/><path d="M1579.2,1110.9L1589.8,1111.5" stroke-width="30.0"/><path d="M1589.8,1111.5L1600.3,1112.1" stroke-width="30.0"/><path d="M1600.3,1112.1L1610.9,1112.8" stroke-width="30.0"/><path d="M1610.9,1112.8L1621.5,1113.6" stroke-width="30.0"/><path d="M1621.5,1113.6L1632.1,1114.4" stroke-width="30.0"/><path d="M1632.1,1114.4L1642.7,1115.3" stroke-width="30.0"/><path d="M1642.7,1115.3L1653.3,1116.3" stroke-width="30.0"/><path d="M1653.3,1116.3L1663.9,1117.5" stroke-width="30.0"/><path d="M1663.9,1117.5L1674.5,1118.8" stroke-width="30.0"/><path d="M1674.5,1118.8L1685.1,1120.1" stroke-width="30.0"/><path d="M1685.1,1120.1L1695.7,1121.5" stroke-width="30.0"/><path d="M1695.7,1121.5L1706.3,1122.8" stroke-width="30.0"/><path d="M1706.3,1122.8L1716.9,1124.0" stroke-width="30.0"/><path d="M1716.9,1124.0L1727.5,1125.3" stroke-width="30.0"/><path d="M1727.5,1125.3L1738.1,1126.6" stroke-width="30.0"/><path d="M1738.1,1126.6L1748.7,1127.8" stroke-width="30.0"/><path d="M1748.7,1127.8L1759.3,1129.1" stroke-width="30.0"/><path d="M1759.3,1129.1L1769.9,1130.4" stroke-width="30.0"/><path d="M1769.9,1130.4L1780.5,1131.6" stroke-width="30.0"/><path d="M1780.5,1131.6L1791.1,1132.9" stroke-width="30.0"/><path d="M1791.1,1132.9L1801.7,1134.2" stroke-width="30.0"/><path d="M1801.7,1134.2L1812.2,1135.6" stroke-width="30.0"/><path d="M1812.2,1135.6L1822.8,1136.9" stroke-width="30.0"/><path d="M1822.8,1136.9L1833.4,1138.3" stroke-width="30.0"/><path d="M1833.4,1138.3L1844.0,1139.7" stroke-width="30.0"/><path d="M1844.0,1139.7L1854.6,1141.1" stroke-width="30.0"/><path d="M1854.6,1141.1L1865.2,1142.5" stroke-width="30.0"/><path d="M1865.2,1142.5L1875.8,1143.9" stroke-width="30.0"/><path d="M1875.8,1143.9L1886.4,1145.2" stroke-width="30.0"/><path d="M1886.4,1145.2L1897.0,1146.6" stroke-width="30.0"/><path d="M1897.0,1146.6L1907.6,1147.9" stroke-width="30.0"/><path d="M1907.6,1147.9L1918.2,1149.2" stroke-width="30.0"/><path d="M1918.2,1149.2L1928.8,1150.5" stroke-width="30.0"/><path d="M1928.8,1150.5L1939.4,1151.8" stroke-width="30.0"/><path d="M1939.4,1151.8L1950.0,1153.1" stroke-width="30.0"/><path d="M1950.0,1153.1L1960.6,1154.3" stroke-width="30.0"/><path d="M1960.6,1154.3L1971.2,1155.6" stroke-width="30.0"/><path d="M1971.2,1155.6L1981.8,1156.8" stroke-width="30.0"/><path d="M1981.8,1156.8L1992.4,1157.9" stroke-width="30.0"/><path d="M1992.4,1157.9L2003.0,1158.9" stroke-width="30.0"/><path d="M2003.0,1158.9L2013.6,1160.0" stroke-width="30.0"/><path d="M2013.6,1160.0L2024.1,1160.9" stroke-width="30.0"/></g><g fill="#17A54B"><circle cx="637.0" cy="144.4" r="15.0"/><circle cx="646.8" cy="143.8" r="15.0"/><circle cx="657.4" cy="143.6" r="15.0"/><circle cx="668.0" cy="143.9" r="15.0"/><circle cx="678.6" cy="144.8" r="15.0"/><circle cx="689.2" cy="146.3" r="15.0"/><circle cx="699.8" cy="148.3" r="15.0"/><circle cx="710.4" cy="151.0" r="15.0"/><circle cx="721.0" cy="154.3" r="15.0"/><circle cx="731.6" cy="158.5" r="15.0"/><circle cx="742.2" cy="163.4" r="15.0"/><circle cx="752.7" cy="169.3" r="15.0"/><circle cx="763.3" cy="176.4" r="15.0"/><circle cx="773.9" cy="184.7" r="15.0"/><circle cx="784.5" cy="195.1" r="15.0"/><circle cx="795.1" cy="207.9" r="15.0"/><circle cx="805.7" cy="222.7" r="15.0"/><circle cx="816.3" cy="239.9" r="15.0"/><circle cx="826.9" cy="259.3" r="15.0"/><circle cx="837.5" cy="281.7" r="15.0"/><circle cx="848.1" cy="308.3" r="15.0"/><circle cx="858.7" cy="339.9" r="15.0"/><circle cx="869.3" cy="377.2" r="15.0"/><circle cx="879.9" cy="419.7" r="15.0"/><circle cx="890.5" cy="464.1" r="15.0"/><circle cx="901.1" cy="506.0" r="15.0"/><circle cx="911.7" cy="544.4" r="15.0"/><circle cx="922.3" cy="579.7" r="15.0"/><circle cx="932.9" cy="612.2" r="15.0"/><circle cx="943.5" cy="642.4" r="15.0"/><circle cx="954.1" cy="670.4" r="15.0"/><circle cx="964.6" cy="696.7" r="15.0"/><circle cx="975.2" cy="721.5" r="15.0"/><circle cx="985.8" cy="745.0" r="15.0"/><circle cx="996.4" cy="767.4" r="15.0"/><circle cx="1007.0" cy="788.8" r="15.0"/><circle cx="1017.6" cy="809.2" r="15.0"/><circle cx="1028.2" cy="828.7" r="15.0"/><circle cx="1038.8" cy="847.1" r="15.0"/><circle cx="1049.4" cy="864.5" r="15.0"/><circle cx="1060.0" cy="880.9" r="15.0"/><circle cx="1070.6" cy="896.3" r="15.0"/><circle cx="1081.2" cy="910.8" r="15.0"/><circle cx="1091.8" cy="924.4" r="15.0"/><circle cx="1102.4" cy="937.1" r="15.0"/><circle cx="1113.0" cy="949.0" r="15.0"/><circle cx="1123.6" cy="960.2" r="15.0"/><circle cx="1134.2" cy="970.8" r="15.0"/><circle cx="1144.8" cy="980.7" r="15.0"/><circle cx="1155.4" cy="990.2" r="15.0"/><circle cx="1166.0" cy="999.1" r="15.0"/><circle cx="1176.5" cy="1007.5" r="15.0"/><circle cx="1187.1" cy="1015.5" r="15.0"/><circle cx="1197.7" cy="1023.1" r="15.0"/><circle cx="1208.3" cy="1030.3" r="15.0"/><circle cx="1218.9" cy="1037.1" r="15.0"/><circle cx="1229.5" cy="1043.5" r="15.0"/><circle cx="1240.1" cy="1049.5" r="15.0"/><circle cx="1250.7" cy="1046.4" r="15.0"/><circle cx="1261.3" cy="1052.1" r="15.0"/><circle cx="1271.9" cy="1057.4" r="15.0"/><circle cx="1282.5" cy="1062.2" r="15.0"/><circle cx="1293.1" cy="1066.5" r="15.0"/><circle cx="1303.7" cy="1070.2" r="15.0"/><circle cx="1314.3" cy="1073.4" r="15.0"/><circle cx="1324.9" cy="1076.2" r="15.0"/><circle cx="1335.5" cy="1078.9" r="15.0"/><circle cx="1346.1" cy="1081.5" r="15.0"/><circle cx="1356.7" cy="1084.0" r="15.0"/><circle cx="1367.3" cy="1086.3" r="15.0"/><circle cx="1377.9" cy="1088.6" r="15.0"/><circle cx="1388.4" cy="1090.7" r="15.0"/><circle cx="1399.0" cy="1092.7" r="15.0"/><circle cx="1409.6" cy="1094.7" r="15.0"/><circle cx="1420.2" cy="1096.5" r="15.0"/><circle cx="1430.8" cy="1098.1" r="15.0"/><circle cx="1441.4" cy="1099.7" r="15.0"/><circle cx="1452.0" cy="1101.2" r="15.0"/><circle cx="1462.6" cy="1102.6" r="15.0"/><circle cx="1473.2" cy="1103.8" r="15.0"/><circle cx="1483.8" cy="1105.0" r="15.0"/><circle cx="1494.4" cy="1105.9" r="15.0"/><circle cx="1505.0" cy="1106.8" r="15.0"/><circle cx="1515.6" cy="1107.5" r="15.0"/><circle cx="1526.2" cy="1108.2" r="15.0"/><circle cx="1536.8" cy="1108.8" r="15.0"/><circle cx="1547.4" cy="1109.4" r="15.0"/><circle cx="1558.0" cy="1109.9" r="15.0"/><circle cx="1568.6" cy="1110.4" r="15.0"/><circle cx="1579.2" cy="1110.9" r="15.0"/><circle cx="1589.8" cy="1111.5" r="15.0"/><circle cx="1600.3" cy="1112.1" r="15.0"/><circle cx="1610.9" cy="1112.8" r="15.0"/><circle cx="1621.5" cy="1113.6" r="15.0"/><circle cx="1632.1" cy="1114.4" r="15.0"/><circle cx="1642.7" cy="1115.3" r="15.0"/><circle cx="1653.3" cy="1116.3" r="15.0"/><circle cx="1663.9" cy="1117.5" r="15.0"/><circle cx="1674.5" cy="1118.8" r="15.0"/><circle cx="1685.1" cy="1120.1" r="15.0"/><circle cx="1695.7" cy="1121.5" r="15.0"/><circle cx="1706.3" cy="1122.8" r="15.0"/><circle cx="1716.9" cy="1124.0" r="15.0"/><circle cx="1727.5" cy="1125.3" r="15.0"/><circle cx="1738.1" cy="1126.6" r="15.0"/><circle cx="1748.7" cy="1127.8" r="15.0"/><circle cx="1759.3" cy="1129.1" r="15.0"/><circle cx="1769.9" cy="1130.4" r="15.0"/><circle cx="1780.5" cy="1131.6" r="15.0"/><circle cx="1791.1" cy="1132.9" r="15.0"/><circle cx="1801.7" cy="1134.2" r="15.0"/><circle cx="1812.2" cy="1135.6" r="15.0"/><circle cx="1822.8" cy="1136.9" r="15.0"/><circle cx="1833.4" cy="1138.3" r="15.0"/><circle cx="1844.0" cy="1139.7" r="15.0"/><circle cx="1854.6" cy="1141.1" r="15.0"/><circle cx="1865.2" cy="1142.5" r="15.0"/><circle cx="1875.8" cy="1143.9" r="15.0"/><circle cx="1886.4" cy="1145.2" r="15.0"/><circle cx="1897.0" cy="1146.6" r="15.0"/><circle cx="1907.6" cy="1147.9" r="15.0"/><circle cx="1918.2" cy="1149.2" r="15.0"/><circle cx="1928.8" cy="1150.5" r="15.0"/><circle cx="1939.4" cy="1151.8" r="15.0"/><circle cx="1950.0" cy="1153.1" r="15.0"/><circle cx="1960.6" cy="1154.3" r="15.0"/><circle cx="1971.2" cy="1155.6" r="15.0"/><circle cx="1981.8" cy="1156.8" r="15.0"/><circle cx="1992.4" cy="1157.9" r="15.0"/><circle cx="2003.0" cy="1158.9" r="15.0"/><circle cx="2013.6" cy="1160.0" r="15.0"/><circle cx="2024.1" cy="1160.9" r="15.0"/></g><g fill="none" stroke="#FF33FF"><path d="M637.0,177.0L646.8,177.5" stroke-width="30.0"/><path d="M646.8,177.5L657.4,178.6" stroke-width="30.0"/><path d="M657.4,178.6L668.0,179.9" stroke-width="30.0"/><path d="M668.0,179.9L678.6,181.5" stroke-width="30.0"/><path d="M678.6,181.5L689.2,183.3" stroke-width="30.0"/><path d="M689.2,183.3L699.8,185.7" stroke-width="30.0"/><path d="M699.8,185.7L710.4,188.6" stroke-width="30.0"/><path d="M710.4,188.6L721.0,191.4" stroke-width="30.0"/><path d="M721.0,191.4L731.6,194.0" stroke-width="30.0"/><path d="M731.6,194.0L742.2,196.7" stroke-width="30.0"/><path d="M742.2,196.7L752.7,199.7" stroke-width="30.0"/><path d="M752.7,199.7L763.3,203.2" stroke-width="30.0"/><path d="M763.3,203.2L773.9,207.7" stroke-width="30.0"/><path d="M773.9,207.7L784.5,212.8" stroke-width="30.0"/><path d="M784.5,212.8L795.1,217.9" stroke-width="30.0"/><path d="M795.1,217.9L805.7,224.5" stroke-width="30.0"/><path d="M805.7,224.5L816.3,235.5" stroke-width="30.0"/><path d="M816.3,235.5L826.9,249.7" stroke-width="30.0"/><path d="M826.9,249.7L837.5,265.7" stroke-width="27.8"/><path d="M837.5,265.7L848.1,281.3" stroke-width="28.4"/><path d="M848.1,281.3L858.7,298.4" stroke-width="26.0"/><path d="M858.7,298.4L869.3,323.9" stroke-width="12.1"/><path d="M869.3,323.9L879.9,356.6" stroke-width="4.0"/><path d="M879.9,356.6L890.5,397.5" stroke-width="4.0"/><path d="M890.5,397.5L901.1,442.0" stroke-width="4.0"/><path d="M901.1,442.0L911.7,484.9" stroke-width="4.0"/><path d="M911.7,484.9L922.3,524.6" stroke-width="4.0"/><path d="M922.3,524.6L932.9,561.3" stroke-width="4.0"/><path d="M932.9,561.3L943.5,595.0" stroke-width="4.0"/><path d="M943.5,595.0L954.1,626.0" stroke-width="4.0"/><path d="M954.1,626.0L964.6,654.9" stroke-width="6.4"/><path d="M964.6,654.9L975.2,682.0" stroke-width="9.4"/><path d="M975.2,682.0L985.8,707.3" stroke-width="12.5"/><path d="M985.8,707.3L996.4,730.8" stroke-width="15.5"/><path d="M996.4,730.8L1007.0,753.2" stroke-width="17.5"/><path d="M1007.0,753.2L1017.6,774.4" stroke-width="19.3"/><path d="M1017.6,774.4L1028.2,794.9" stroke-width="20.6"/><path d="M1028.2,794.9L1038.8,814.5" stroke-width="22.0"/><path d="M1038.8,814.5L1049.4,834.8" stroke-width="21.0"/><path d="M1049.4,834.8L1060.0,856.3" stroke-width="18.8"/><path d="M1060.0,856.3L1070.6,878.3" stroke-width="18.2"/><path d="M1070.6,878.3L1081.2,893.5" stroke-width="29.0"/><path d="M1081.2,893.5L1091.8,903.4" stroke-width="30.0"/><path d="M1091.8,903.4L1102.4,913.5" stroke-width="30.0"/><path d="M1102.4,913.5L1113.0,924.9" stroke-width="30.0"/><path d="M1113.0,924.9L1123.6,936.8" stroke-width="30.0"/><path d="M1123.6,936.8L1134.2,948.6" stroke-width="30.0"/><path d="M1134.2,948.6L1144.8,959.8" stroke-width="30.0"/><path d="M1144.8,959.8L1155.4,970.1" stroke-width="30.0"/><path d="M1155.4,970.1L1166.0,979.9" stroke-width="30.0"/><path d="M1166.0,979.9L1176.5,989.2" stroke-width="30.0"/><path d="M1176.5,989.2L1187.1,998.1" stroke-width="30.0"/><path d="M1187.1,998.1L1197.7,1006.3" stroke-width="30.0"/><path d="M1197.7,1006.3L1208.3,1014.0" stroke-width="30.0"/><path d="M1208.3,1014.0L1218.9,1021.2" stroke-width="30.0"/><path d="M1218.9,1021.2L1229.5,1028.0" stroke-width="30.0"/><path d="M1229.5,1028.0L1240.1,1034.4" stroke-width="30.0"/><path d="M1240.1,1034.4L1250.7,1040.4" stroke-width="30.0"/><path d="M1250.7,1040.4L1261.3,1046.0" stroke-width="30.0"/><path d="M1261.3,1046.0L1271.9,1051.2" stroke-width="30.0"/><path d="M1271.9,1051.2L1282.5,1056.2" stroke-width="30.0"/><path d="M1282.5,1056.2L1293.1,1061.0" stroke-width="30.0"/><path d="M1293.1,1061.0L1303.7,1065.6" stroke-width="30.0"/><path d="M1303.7,1065.6L1314.3,1070.0" stroke-width="30.0"/><path d="M1314.3,1070.0L1324.9,1074.3" stroke-width="30.0"/><path d="M1324.9,1074.3L1335.5,1078.5" stroke-width="30.0"/><path d="M1335.5,1078.5L1346.1,1082.5" stroke-width="30.0"/><path d="M1346.1,1082.5L1356.7,1086.5" stroke-width="30.0"/><path d="M1356.7,1086.5L1367.3,1090.6" stroke-width="30.0"/><path d="M1367.3,1090.6L1377.9,1094.5" stroke-width="30.0"/><path d="M1377.9,1094.5L1388.4,1098.3" stroke-width="30.0"/><path d="M1388.4,1098.3L1399.0,1101.7" stroke-width="30.0"/><path d="M1399.0,1101.7L1409.6,1104.8" stroke-width="30.0"/><path d="M1409.6,1104.8L1420.2,1107.6" stroke-width="30.0"/><path d="M1420.2,1107.6L1430.8,1110.2" stroke-width="30.0"/><path d="M1430.8,1110.2L1441.4,1112.9" stroke-width="30.0"/><path d="M1441.4,1112.9L1452.0,1115.5" stroke-width="30.0"/><path d="M1452.0,1115.5L1462.6,1118.2" stroke-width="30.0"/><path d="M1462.6,1118.2L1473.2,1120.9" stroke-width="30.0"/><path d="M1473.2,1120.9L1483.8,1123.5" stroke-width="30.0"/><path d="M1483.8,1123.5L1494.4,1126.1" stroke-width="30.0"/><path d="M1494.4,1126.1L1505.0,1128.8" stroke-width="30.0"/><path d="M1505.0,1128.8L1515.6,1131.5" stroke-width="30.0"/><path d="M1515.6,1131.5L1526.2,1133.8" stroke-width="30.0"/><path d="M1526.2,1133.8L1536.8,1135.6" stroke-width="30.0"/><path d="M1536.8,1135.6L1547.4,1136.8" stroke-width="30.0"/><path d="M1547.4,1136.8L1558.0,1137.8" stroke-width="30.0"/><path d="M1558.0,1137.8L1568.6,1138.7" stroke-width="30.0"/><path d="M1568.6,1138.7L1579.2,1139.4" stroke-width="30.0"/><path d="M1579.2,1139.4L1589.8,1139.8" stroke-width="30.0"/><path d="M1589.8,1139.8L1600.3,1140.0" stroke-width="30.0"/><path d="M1600.3,1140.0L1610.9,1140.0" stroke-width="30.0"/><path d="M1610.9,1140.0L1621.5,1140.0" stroke-width="30.0"/><path d="M1621.5,1140.0L1632.1,1140.0" stroke-width="30.0"/><path d="M1632.1,1140.0L1642.7,1139.9" stroke-width="30.0"/><path d="M1642.7,1139.9L1653.3,1139.9" stroke-width="30.0"/><path d="M1653.3,1139.9L1663.9,1139.9" stroke-width="30.0"/><path d="M1663.9,1139.9L1674.5,1139.8" stroke-width="30.0"/><path d="M1674.5,1139.8L1685.1,1139.8" stroke-width="30.0"/><path d="M1685.1,1139.8L1695.7,1139.7" stroke-width="30.0"/><path d="M1695.7,1139.7L1706.3,1139.7" stroke-width="30.0"/><path d="M1706.3,1139.7L1716.9,1139.6" stroke-width="30.0"/><path d="M1716.9,1139.6L1727.5,1139.6" stroke-width="30.0"/><path d="M1727.5,1139.6L1738.1,1139.6" stroke-width="30.0"/><path d="M1738.1,1139.6L1748.7,1139.5" stroke-width="30.0"/><path d="M1748.7,1139.5L1759.3,1139.5" stroke-width="30.0"/><path d="M1759.3,1139.5L1769.9,1139.5" stroke-width="30.0"/><path d="M1769.9,1139.5L1780.5,1139.5" stroke-width="30.0"/><path d="M1780.5,1139.5L1791.1,1139.5" stroke-width="30.0"/><path d="M1791.1,1139.5L1801.7,1139.5" stroke-width="30.0"/><path d="M1801.7,1139.5L1812.2,1139.6" stroke-width="30.0"/><path d="M1812.2,1139.6L1822.8,1139.7" stroke-width="30.0"/><path d="M1822.8,1139.7L1833.4,1139.8" stroke-width="30.0"/><path d="M1833.4,1139.8L1844.0,1139.9" stroke-width="30.0"/><path d="M1844.0,1139.9L1854.6,1140.0" stroke-width="30.0"/><path d="M1854.6,1140.0L1865.2,1140.1" stroke-width="30.0"/><path d="M1865.2,1140.1L1875.8,1140.3" stroke-width="30.0"/><path d="M1875.8,1140.3L1886.4,1140.5" stroke-width="30.0"/><path d="M1886.4,1140.5L1897.0,1140.6" stroke-width="30.0"/><path d="M1897.0,1140.6L1907.6,1140.8" stroke-width="30.0"/><path d="M1907.6,1140.8L1918.2,1141.0" stroke-width="30.0"/><path d="M1918.2,1141.0L1928.8,1141.3" stroke-width="30.0"/><path d="M1928.8,1141.3L1939.4,1141.5" stroke-width="30.0"/><path d="M1939.4,1141.5L1950.0,1141.8" stroke-width="30.0"/><path d="M1950.0,1141.8L1960.6,1142.0" stroke-width="30.0"/><path d="M1960.6,1142.0L1971.2,1142.3" stroke-width="30.0"/><path d="M1971.2,1142.3L1981.8,1142.6" stroke-width="30.0"/><path d="M1981.8,1142.6L1992.4,1142.8" stroke-width="30.0"/><path d="M1992.4,1142.8L2003.0,1143.1" stroke-width="30.0"/><path d="M2003.0,1143.1L2013.6,1143.4" stroke-width="30.0"/><path d="M2013.6,1143.4L2024.1,1143.7" stroke-width="30.0"/><path d="M2024.1,1143.7L2033.0,1144.0" stroke-width="30.0"/></g><g fill="#FF33FF"><circle cx="637.0" cy="177.0" r="15.0"/><circle cx="646.8" cy="177.5" r="15.0"/><circle cx="657.4" cy="178.6" r="15.0"/><circle cx="668.0" cy="179.9" r="15.0"/><circle cx="678.6" cy="181.5" r="15.0"/><circle cx="689.2" cy="183.3" r="15.0"/><circle cx="699.8" cy="185.7" r="15.0"/><circle cx="710.4" cy="188.6" r="15.0"/><circle cx="721.0" cy="191.4" r="15.0"/><circle cx="731.6" cy="194.0" r="15.0"/><circle cx="742.2" cy="196.7" r="15.0"/><circle cx="752.7" cy="199.7" r="15.0"/><circle cx="763.3" cy="203.2" r="15.0"/><circle cx="773.9" cy="207.7" r="15.0"/><circle cx="784.5" cy="212.8" r="15.0"/><circle cx="795.1" cy="217.9" r="15.0"/><circle cx="805.7" cy="224.5" r="15.0"/><circle cx="816.3" cy="235.5" r="15.0"/><circle cx="826.9" cy="249.7" r="15.0"/><circle cx="837.5" cy="265.7" r="15.0"/><circle cx="848.1" cy="281.3" r="15.0"/><circle cx="858.7" cy="298.4" r="15.0"/><circle cx="869.3" cy="323.9" r="15.0"/><circle cx="879.9" cy="356.6" r="15.0"/><circle cx="890.5" cy="397.5" r="15.0"/><circle cx="901.1" cy="442.0" r="15.0"/><circle cx="911.7" cy="484.9" r="15.0"/><circle cx="922.3" cy="524.6" r="15.0"/><circle cx="932.9" cy="561.3" r="15.0"/><circle cx="943.5" cy="595.0" r="15.0"/><circle cx="954.1" cy="626.0" r="15.0"/><circle cx="964.6" cy="654.9" r="15.0"/><circle cx="975.2" cy="682.0" r="15.0"/><circle cx="985.8" cy="707.3" r="15.0"/><circle cx="996.4" cy="730.8" r="15.0"/><circle cx="1007.0" cy="753.2" r="15.0"/><circle cx="1017.6" cy="774.4" r="15.0"/><circle cx="1028.2" cy="794.9" r="15.0"/><circle cx="1038.8" cy="814.5" r="15.0"/><circle cx="1049.4" cy="834.8" r="15.0"/><circle cx="1060.0" cy="856.3" r="15.0"/><circle cx="1070.6" cy="878.3" r="15.0"/><circle cx="1081.2" cy="893.5" r="15.0"/><circle cx="1091.8" cy="903.4" r="15.0"/><circle cx="1102.4" cy="913.5" r="15.0"/><circle cx="1113.0" cy="924.9" r="15.0"/><circle cx="1123.6" cy="936.8" r="15.0"/><circle cx="1134.2" cy="948.6" r="15.0"/><circle cx="1144.8" cy="959.8" r="15.0"/><circle cx="1155.4" cy="970.1" r="15.0"/><circle cx="1166.0" cy="979.9" r="15.0"/><circle cx="1176.5" cy="989.2" r="15.0"/><circle cx="1187.1" cy="998.1" r="15.0"/><circle cx="1197.7" cy="1006.3" r="15.0"/><circle cx="1208.3" cy="1014.0" r="15.0"/><circle cx="1218.9" cy="1021.2" r="15.0"/><circle cx="1229.5" cy="1028.0" r="15.0"/><circle cx="1240.1" cy="1034.4" r="15.0"/><circle cx="1250.7" cy="1040.4" r="15.0"/><circle cx="1261.3" cy="1046.0" r="15.0"/><circle cx="1271.9" cy="1051.2" r="15.0"/><circle cx="1282.5" cy="1056.2" r="15.0"/><circle cx="1293.1" cy="1061.0" r="15.0"/><circle cx="1303.7" cy="1065.6" r="15.0"/><circle cx="1314.3" cy="1070.0" r="15.0"/><circle cx="1324.9" cy="1074.3" r="15.0"/><circle cx="1335.5" cy="1078.5" r="15.0"/><circle cx="1346.1" cy="1082.5" r="15.0"/><circle cx="1356.7" cy="1086.5" r="15.0"/><circle cx="1367.3" cy="1090.6" r="15.0"/><circle cx="1377.9" cy="1094.5" r="15.0"/><circle cx="1388.4" cy="1098.3" r="15.0"/><circle cx="1399.0" cy="1101.7" r="15.0"/><circle cx="1409.6" cy="1104.8" r="15.0"/><circle cx="1420.2" cy="1107.6" r="15.0"/><circle cx="1430.8" cy="1110.2" r="15.0"/><circle cx="1441.4" cy="1112.9" r="15.0"/><circle cx="1452.0" cy="1115.5" r="15.0"/><circle cx="1462.6" cy="1118.2" r="15.0"/><circle cx="1473.2" cy="1120.9" r="15.0"/><circle cx="1483.8" cy="1123.5" r="15.0"/><circle cx="1494.4" cy="1126.1" r="15.0"/><circle cx="1505.0" cy="1128.8" r="15.0"/><circle cx="1515.6" cy="1131.5" r="15.0"/><circle cx="1526.2" cy="1133.8" r="15.0"/><circle cx="1536.8" cy="1135.6" r="15.0"/><circle cx="1547.4" cy="1136.8" r="15.0"/><circle cx="1558.0" cy="1137.8" r="15.0"/><circle cx="1568.6" cy="1138.7" r="15.0"/><circle cx="1579.2" cy="1139.4" r="15.0"/><circle cx="1589.8" cy="1139.8" r="15.0"/><circle cx="1600.3" cy="1140.0" r="15.0"/><circle cx="1610.9" cy="1140.0" r="15.0"/><circle cx="1621.5" cy="1140.0" r="15.0"/><circle cx="1632.1" cy="1140.0" r="15.0"/><circle cx="1642.7" cy="1139.9" r="15.0"/><circle cx="1653.3" cy="1139.9" r="15.0"/><circle cx="1663.9" cy="1139.9" r="15.0"/><circle cx="1674.5" cy="1139.8" r="15.0"/><circle cx="1685.1" cy="1139.8" r="15.0"/><circle cx="1695.7" cy="1139.7" r="15.0"/><circle cx="1706.3" cy="1139.7" r="15.0"/><circle cx="1716.9" cy="1139.6" r="15.0"/><circle cx="1727.5" cy="1139.6" r="15.0"/><circle cx="1738.1" cy="1139.6" r="15.0"/><circle cx="1748.7" cy="1139.5" r="15.0"/><circle cx="1759.3" cy="1139.5" r="15.0"/><circle cx="1769.9" cy="1139.5" r="15.0"/><circle cx="1780.5" cy="1139.5" r="15.0"/><circle cx="1791.1" cy="1139.5" r="15.0"/><circle cx="1801.7" cy="1139.5" r="15.0"/><circle cx="1812.2" cy="1139.6" r="15.0"/><circle cx="1822.8" cy="1139.7" r="15.0"/><circle cx="1833.4" cy="1139.8" r="15.0"/><circle cx="1844.0" cy="1139.9" r="15.0"/><circle cx="1854.6" cy="1140.0" r="15.0"/><circle cx="1865.2" cy="1140.1" r="15.0"/><circle cx="1875.8" cy="1140.3" r="15.0"/><circle cx="1886.4" cy="1140.5" r="15.0"/><circle cx="1897.0" cy="1140.6" r="15.0"/><circle cx="1907.6" cy="1140.8" r="15.0"/><circle cx="1918.2" cy="1141.0" r="15.0"/><circle cx="1928.8" cy="1141.3" r="15.0"/><circle cx="1939.4" cy="1141.5" r="15.0"/><circle cx="1950.0" cy="1141.8" r="15.0"/><circle cx="1960.6" cy="1142.0" r="15.0"/><circle cx="1971.2" cy="1142.3" r="15.0"/><circle cx="1981.8" cy="1142.6" r="15.0"/><circle cx="1992.4" cy="1142.8" r="15.0"/><circle cx="2003.0" cy="1143.1" r="15.0"/><circle cx="2013.6" cy="1143.4" r="15.0"/><circle cx="2024.1" cy="1143.7" r="15.0"/><circle cx="2033.0" cy="1144.0" r="15.0"/></g><g fill="none" stroke="#0000FF"><path d="M637.0,144.1L646.8,143.8" stroke-width="30.0"/><path d="M646.8,143.8L657.4,143.8" stroke-width="30.0"/><path d="M657.4,143.8L668.0,144.3" stroke-width="30.0"/><path d="M668.0,144.3L678.6,145.3" stroke-width="30.0"/><path d="M678.6,145.3L689.2,146.8" stroke-width="30.0"/><path d="M689.2,146.8L699.8,148.8" stroke-width="30.0"/><path d="M699.8,148.8L710.4,151.2" stroke-width="30.0"/><path d="M710.4,151.2L721.0,154.2" stroke-width="30.0"/><path d="M721.0,154.2L731.6,157.8" stroke-width="30.0"/><path d="M731.6,157.8L742.2,161.9" stroke-width="30.0"/><path d="M742.2,161.9L752.7,166.6" stroke-width="30.0"/><path d="M752.7,166.6L763.3,171.9" stroke-width="30.0"/><path d="M763.3,171.9L773.9,177.8" stroke-width="30.0"/><path d="M773.9,177.8L784.5,184.5" stroke-width="30.0"/><path d="M784.5,184.5L795.1,191.9" stroke-width="30.0"/><path d="M795.1,191.9L805.7,200.0" stroke-width="30.0"/><path d="M805.7,200.0L816.3,209.1" stroke-width="30.0"/><path d="M816.3,209.1L826.9,219.1" stroke-width="30.0"/><path d="M826.9,219.1L837.5,230.1" stroke-width="30.0"/><path d="M837.5,230.1L848.1,242.4" stroke-width="30.0"/><path d="M848.1,242.4L858.7,256.1" stroke-width="30.0"/><path d="M858.7,256.1L869.3,271.5" stroke-width="28.7"/><path d="M869.3,271.5L879.9,288.9" stroke-width="25.5"/><path d="M879.9,288.9L890.5,308.7" stroke-width="21.7"/><path d="M890.5,308.7L901.1,331.3" stroke-width="17.1"/><path d="M901.1,331.3L911.7,357.0" stroke-width="11.9"/><path d="M911.7,357.0L922.3,385.9" stroke-width="6.2"/><path d="M922.3,385.9L932.9,417.7" stroke-width="4.0"/><path d="M932.9,417.7L943.5,451.5" stroke-width="4.0"/><path d="M943.5,451.5L954.1,485.3" stroke-width="4.0"/><path d="M954.1,485.3L964.6,517.7" stroke-width="4.0"/><path d="M964.6,517.7L975.2,548.0" stroke-width="4.0"/><path d="M975.2,548.0L985.8,576.2" stroke-width="7.5"/><path d="M985.8,576.2L996.4,602.3" stroke-width="11.0"/><path d="M996.4,602.3L1007.0,626.7" stroke-width="14.2"/><path d="M1007.0,626.7L1017.6,649.3" stroke-width="17.0"/><path d="M1017.6,649.3L1028.2,670.4" stroke-width="19.6"/><path d="M1028.2,670.4L1038.8,690.1" stroke-width="22.0"/><path d="M1038.8,690.1L1049.4,708.4" stroke-width="24.2"/><path d="M1049.4,708.4L1060.0,725.4" stroke-width="26.2"/><path d="M1060.0,725.4L1070.6,741.2" stroke-width="28.1"/><path d="M1070.6,741.2L1081.2,755.9" stroke-width="29.8"/><path d="M1081.2,755.9L1091.8,769.5" stroke-width="30.0"/><path d="M1091.8,769.5L1102.4,782.1" stroke-width="30.0"/><path d="M1102.4,782.1L1113.0,793.7" stroke-width="30.0"/><path d="M1113.0,793.7L1123.6,804.4" stroke-width="30.0"/><path d="M1123.6,804.4L1134.2,814.3" stroke-width="30.0"/><path d="M1134.2,814.3L1144.8,823.3" stroke-width="30.0"/><path d="M1144.8,823.3L1155.4,831.6" stroke-width="30.0"/><path d="M1155.4,831.6L1166.0,839.1" stroke-width="30.0"/><path d="M1166.0,839.1L1176.5,846.0" stroke-width="30.0"/><path d="M1176.5,846.0L1187.1,852.3" stroke-width="30.0"/><path d="M1187.1,852.3L1197.7,858.2" stroke-width="30.0"/><path d="M1197.7,858.2L1208.3,863.5" stroke-width="30.0"/><path d="M1208.3,863.5L1218.9,868.5" stroke-width="30.0"/><path d="M1218.9,868.5L1229.5,873.1" stroke-width="30.0"/><path d="M1229.5,873.1L1240.1,877.3" stroke-width="30.0"/><path d="M1240.1,877.3L1250.7,881.2" stroke-width="30.0"/><path d="M1250.7,881.2L1261.3,884.8" stroke-width="30.0"/><path d="M1261.3,884.8L1271.9,888.1" stroke-width="30.0"/><path d="M1271.9,888.1L1282.5,891.2" stroke-width="30.0"/><path d="M1282.5,891.2L1293.1,894.0" stroke-width="30.0"/><path d="M1293.1,894.0L1303.7,896.6" stroke-width="30.0"/><path d="M1303.7,896.6L1314.3,899.0" stroke-width="30.0"/><path d="M1314.3,899.0L1324.9,901.2" stroke-width="30.0"/><path d="M1324.9,901.2L1335.5,903.3" stroke-width="30.0"/><path d="M1335.5,903.3L1346.1,905.2" stroke-width="30.0"/><path d="M1346.1,905.2L1356.7,906.9" stroke-width="30.0"/><path d="M1356.7,906.9L1367.3,908.5" stroke-width="30.0"/><path d="M1367.3,908.5L1377.9,909.9" stroke-width="30.0"/><path d="M1377.9,909.9L1388.4,911.2" stroke-width="30.0"/><path d="M1388.4,911.2L1399.0,912.5" stroke-width="30.0"/><path d="M1399.0,912.5L1409.6,913.6" stroke-width="30.0"/><path d="M1409.6,913.6L1420.2,914.6" stroke-width="30.0"/><path d="M1420.2,914.6L1430.8,915.5" stroke-width="30.0"/><path d="M1430.8,915.5L1441.4,916.3" stroke-width="30.0"/><path d="M1441.4,916.3L1452.0,917.1" stroke-width="30.0"/><path d="M1452.0,917.1L1462.6,917.8" stroke-width="30.0"/><path d="M1462.6,917.8L1473.2,918.4" stroke-width="30.0"/><path d="M1473.2,918.4L1483.8,919.0" stroke-width="30.0"/><path d="M1483.8,919.0L1494.4,919.5" stroke-width="30.0"/><path d="M1494.4,919.5L1505.0,920.0" stroke-width="30.0"/><path d="M1505.0,920.0L1515.6,920.4" stroke-width="30.0"/><path d="M1515.6,920.4L1526.2,920.9" stroke-width="30.0"/><path d="M1526.2,920.9L1536.8,921.3" stroke-width="30.0"/><path d="M1536.8,921.3L1547.4,921.7" stroke-width="30.0"/><path d="M1547.4,921.7L1558.0,922.1" stroke-width="30.0"/><path d="M1558.0,922.1L1568.6,922.5" stroke-width="30.0"/><path d="M1568.6,922.5L1579.2,922.9" stroke-width="30.0"/><path d="M1579.2,922.9L1589.8,923.2" stroke-width="30.0"/><path d="M1589.8,923.2L1600.3,923.6" stroke-width="30.0"/><path d="M1600.3,923.6L1610.9,924.0" stroke-width="30.0"/><path d="M1610.9,924.0L1621.5,924.4" stroke-width="30.0"/><path d="M1621.5,924.4L1632.1,924.8" stroke-width="30.0"/><path d="M1632.1,924.8L1642.7,925.2" stroke-width="30.0"/><path d="M1642.7,925.2L1653.3,925.5" stroke-width="30.0"/><path d="M1653.3,925.5L1663.9,925.9" stroke-width="30.0"/><path d="M1663.9,925.9L1674.5,926.3" stroke-width="30.0"/><path d="M1674.5,926.3L1685.1,926.7" stroke-width="30.0"/><path d="M1685.1,926.7L1695.7,927.1" stroke-width="30.0"/><path d="M1695.7,927.1L1706.3,927.6" stroke-width="30.0"/><path d="M1706.3,927.6L1716.9,928.0" stroke-width="30.0"/><path d="M1716.9,928.0L1727.5,928.4" stroke-width="30.0"/><path d="M1727.5,928.4L1738.1,928.8" stroke-width="30.0"/><path d="M1738.1,928.8L1748.7,929.3" stroke-width="30.0"/><path d="M1748.7,929.3L1759.3,929.7" stroke-width="30.0"/><path d="M1759.3,929.7L1769.9,930.2" stroke-width="30.0"/><path d="M1769.9,930.2L1780.5,930.7" stroke-width="30.0"/><path d="M1780.5,930.7L1791.1,931.2" stroke-width="30.0"/><path d="M1791.1,931.2L1801.7,931.7" stroke-width="30.0"/><path d="M1801.7,931.7L1812.2,932.2" stroke-width="30.0"/><path d="M1812.2,932.2L1822.8,932.7" stroke-width="30.0"/><path d="M1822.8,932.7L1833.4,933.3" stroke-width="30.0"/><path d="M1833.4,933.3L1844.0,933.8" stroke-width="30.0"/><path d="M1844.0,933.8L1854.6,934.8" stroke-width="30.0"/><path d="M1854.6,934.8L1865.2,932.8" stroke-width="30.0"/><path d="M1865.2,932.8L1875.8,928.4" stroke-width="30.0"/><path d="M1875.8,928.4L1886.4,934.7" stroke-width="30.0"/><path d="M1886.4,934.7L1897.0,935.8" stroke-width="30.0"/><path d="M1897.0,935.8L1907.6,933.5" stroke-width="30.0"/><path d="M1907.6,933.5L1918.2,927.6" stroke-width="30.0"/><path d="M1918.2,927.6L1928.8,935.9" stroke-width="30.0"/><path d="M1928.8,935.9L1939.4,938.0" stroke-width="30.0"/><path d="M1939.4,938.0L1950.0,936.0" stroke-width="30.0"/><path d="M1950.0,936.0L1960.6,926.0" stroke-width="30.0"/><path d="M1960.6,926.0L1971.2,931.5" stroke-width="30.0"/><path d="M1971.2,931.5L1981.8,936.4" stroke-width="30.0"/><path d="M1981.8,936.4L1992.4,943.0" stroke-width="30.0"/><path d="M1992.4,943.0L2003.0,945.7" stroke-width="30.0"/><path d="M2003.0,945.7L2013.6,945.9" stroke-width="30.0"/><path d="M2013.6,945.9L2024.1,944.4" stroke-width="30.0"/></g><g fill="#0000FF"><circle cx="637.0" cy="144.1" r="15.0"/><circle cx="646.8" cy="143.8" r="15.0"/><circle cx="657.4" cy="143.8" r="15.0"/><circle cx="668.0" cy="144.3" r="15.0"/><circle cx="678.6" cy="145.3" r="15.0"/><circle cx="689.2" cy="146.8" r="15.0"/><circle cx="699.8" cy="148.8" r="15.0"/><circle cx="710.4" cy="151.2" r="15.0"/><circle cx="721.0" cy="154.2" r="15.0"/><circle cx="731.6" cy="157.8" r="15.0"/><circle cx="742.2" cy="161.9" r="15.0"/><circle cx="752.7" cy="166.6" r="15.0"/><circle cx="763.3" cy="171.9" r="15.0"/><circle cx="773.9" cy="177.8" r="15.0"/><circle cx="784.5" cy="184.5" r="15.0"/><circle cx="795.1" cy="191.9" r="15.0"/><circle cx="805.7" cy="200.0" r="15.0"/><circle cx="816.3" cy="209.1" r="15.0"/><circle cx="826.9" cy="219.1" r="15.0"/><circle cx="837.5" cy="230.1" r="15.0"/><circle cx="848.1" cy="242.4" r="15.0"/><circle cx="858.7" cy="256.1" r="15.0"/><circle cx="869.3" cy="271.5" r="15.0"/><circle cx="879.9" cy="288.9" r="15.0"/><circle cx="890.5" cy="308.7" r="15.0"/><circle cx="901.1" cy="331.3" r="15.0"/><circle cx="911.7" cy="357.0" r="15.0"/><circle cx="922.3" cy="385.9" r="15.0"/><circle cx="932.9" cy="417.7" r="15.0"/><circle cx="943.5" cy="451.5" r="15.0"/><circle cx="954.1" cy="485.3" r="15.0"/><circle cx="964.6" cy="517.7" r="15.0"/><circle cx="975.2" cy="548.0" r="15.0"/><circle cx="985.8" cy="576.2" r="15.0"/><circle cx="996.4" cy="602.3" r="15.0"/><circle cx="1007.0" cy="626.7" r="15.0"/><circle cx="1017.6" cy="649.3" r="15.0"/><circle cx="1028.2" cy="670.4" r="15.0"/><circle cx="1038.8" cy="690.1" r="15.0"/><circle cx="1049.4" cy="708.4" r="15.0"/><circle cx="1060.0" cy="725.4" r="15.0"/><circle cx="1070.6" cy="741.2" r="15.0"/><circle cx="1081.2" cy="755.9" r="15.0"/><circle cx="1091.8" cy="769.5" r="15.0"/><circle cx="1102.4" cy="782.1" r="15.0"/><circle cx="1113.0" cy="793.7" r="15.0"/><circle cx="1123.6" cy="804.4" r="15.0"/><circle cx="1134.2" cy="814.3" r="15.0"/><circle cx="1144.8" cy="823.3" r="15.0"/><circle cx="1155.4" cy="831.6" r="15.0"/><circle cx="1166.0" cy="839.1" r="15.0"/><circle cx="1176.5" cy="846.0" r="15.0"/><circle cx="1187.1" cy="852.3" r="15.0"/><circle cx="1197.7" cy="858.2" r="15.0"/><circle cx="1208.3" cy="863.5" r="15.0"/><circle cx="1218.9" cy="868.5" r="15.0"/><circle cx="1229.5" cy="873.1" r="15.0"/><circle cx="1240.1" cy="877.3" r="15.0"/><circle cx="1250.7" cy="881.2" r="15.0"/><circle cx="1261.3" cy="884.8" r="15.0"/><circle cx="1271.9" cy="888.1" r="15.0"/><circle cx="1282.5" cy="891.2" r="15.0"/><circle cx="1293.1" cy="894.0" r="15.0"/><circle cx="1303.7" cy="896.6" r="15.0"/><circle cx="1314.3" cy="899.0" r="15.0"/><circle cx="1324.9" cy="901.2" r="15.0"/><circle cx="1335.5" cy="903.3" r="15.0"/><circle cx="1346.1" cy="905.2" r="15.0"/><circle cx="1356.7" cy="906.9" r="15.0"/><circle cx="1367.3" cy="908.5" r="15.0"/><circle cx="1377.9" cy="909.9" r="15.0"/><circle cx="1388.4" cy="911.2" r="15.0"/><circle cx="1399.0" cy="912.5" r="15.0"/><circle cx="1409.6" cy="913.6" r="15.0"/><circle cx="1420.2" cy="914.6" r="15.0"/><circle cx="1430.8" cy="915.5" r="15.0"/><circle cx="1441.4" cy="916.3" r="15.0"/><circle cx="1452.0" cy="917.1" r="15.0"/><circle cx="1462.6" cy="917.8" r="15.0"/><circle cx="1473.2" cy="918.4" r="15.0"/><circle cx="1483.8" cy="919.0" r="15.0"/><circle cx="1494.4" cy="919.5" r="15.0"/><circle cx="1505.0" cy="920.0" r="15.0"/><circle cx="1515.6" cy="920.4" r="15.0"/><circle cx="1526.2" cy="920.9" r="15.0"/><circle cx="1536.8" cy="921.3" r="15.0"/><circle cx="1547.4" cy="921.7" r="15.0"/><circle cx="1558.0" cy="922.1" r="15.0"/><circle cx="1568.6" cy="922.5" r="15.0"/><circle cx="1579.2" cy="922.9" r="15.0"/><circle cx="1589.8" cy="923.2" r="15.0"/><circle cx="1600.3" cy="923.6" r="15.0"/><circle cx="1610.9" cy="924.0" r="15.0"/><circle cx="1621.5" cy="924.4" r="15.0"/><circle cx="1632.1" cy="924.8" r="15.0"/><circle cx="1642.7" cy="925.2" r="15.0"/><circle cx="1653.3" cy="925.5" r="15.0"/><circle cx="1663.9" cy="925.9" r="15.0"/><circle cx="1674.5" cy="926.3" r="15.0"/><circle cx="1685.1" cy="926.7" r="15.0"/><circle cx="1695.7" cy="927.1" r="15.0"/><circle cx="1706.3" cy="927.6" r="15.0"/><circle cx="1716.9" cy="928.0" r="15.0"/><circle cx="1727.5" cy="928.4" r="15.0"/><circle cx="1738.1" cy="928.8" r="15.0"/><circle cx="1748.7" cy="929.3" r="15.0"/><circle cx="1759.3" cy="929.7" r="15.0"/><circle cx="1769.9" cy="930.2" r="15.0"/><circle cx="1780.5" cy="930.7" r="15.0"/><circle cx="1791.1" cy="931.2" r="15.0"/><circle cx="1801.7" cy="931.7" r="15.0"/><circle cx="1812.2" cy="932.2" r="15.0"/><circle cx="1822.8" cy="932.7" r="15.0"/><circle cx="1833.4" cy="933.3" r="15.0"/><circle cx="1844.0" cy="933.8" r="15.0"/><circle cx="1854.6" cy="934.8" r="15.0"/><circle cx="1865.2" cy="932.8" r="15.0"/><circle cx="1875.8" cy="928.4" r="15.0"/><circle cx="1886.4" cy="934.7" r="15.0"/><circle cx="1897.0" cy="935.8" r="15.0"/><circle cx="1907.6" cy="933.5" r="15.0"/><circle cx="1918.2" cy="927.6" r="15.0"/><circle cx="1928.8" cy="935.9" r="15.0"/><circle cx="1939.4" cy="938.0" r="15.0"/><circle cx="1950.0" cy="936.0" r="15.0"/><circle cx="1960.6" cy="926.0" r="15.0"/><circle cx="1971.2" cy="931.5" r="15.0"/><circle cx="1981.8" cy="936.4" r="15.0"/><circle cx="1992.4" cy="943.0" r="15.0"/><circle cx="2003.0" cy="945.7" r="15.0"/><circle cx="2013.6" cy="945.9" r="15.0"/><circle cx="2024.1" cy="944.4" r="15.0"/></g><g fill="none" stroke="#FFFF00"><path d="M637.0,144.4L646.8,143.8" stroke-width="30.0"/><path d="M646.8,143.8L657.4,143.6" stroke-width="30.0"/><path d="M657.4,143.6L668.0,143.9" stroke-width="30.0"/><path d="M668.0,143.9L678.6,144.8" stroke-width="30.0"/><path d="M678.6,144.8L689.2,146.3" stroke-width="30.0"/><path d="M689.2,146.3L699.8,148.3" stroke-width="30.0"/><path d="M699.8,148.3L710.4,151.0" stroke-width="30.0"/><path d="M710.4,151.0L721.0,154.3" stroke-width="30.0"/><path d="M721.0,154.3L731.6,158.5" stroke-width="30.0"/><path d="M731.6,158.5L742.2,163.4" stroke-width="30.0"/><path d="M742.2,163.4L752.7,169.3" stroke-width="30.0"/><path d="M752.7,169.3L763.3,176.4" stroke-width="30.0"/><path d="M763.3,176.4L773.9,184.7" stroke-width="30.0"/><path d="M773.9,184.7L784.5,194.7" stroke-width="30.0"/><path d="M784.5,194.7L795.1,206.4" stroke-width="30.0"/><path d="M795.1,206.4L805.7,220.1" stroke-width="30.0"/><path d="M805.7,220.1L816.3,236.3" stroke-width="27.5"/><path d="M816.3,236.3L826.9,255.3" stroke-width="23.0"/><path d="M826.9,255.3L837.5,277.7" stroke-width="17.4"/><path d="M837.5,277.7L848.1,304.3" stroke-width="10.4"/><path d="M848.1,304.3L858.7,335.9" stroke-width="4.0"/><path d="M858.7,335.9L869.3,373.2" stroke-width="4.0"/><path d="M869.3,373.2L879.9,415.7" stroke-width="4.0"/><path d="M879.9,415.7L890.5,460.1" stroke-width="4.0"/><path d="M890.5,460.1L901.1,502.0" stroke-width="4.0"/><path d="M901.1,502.0L911.7,540.4" stroke-width="4.0"/><path d="M911.7,540.4L922.3,575.7" stroke-width="4.0"/><path d="M922.3,575.7L932.9,608.2" stroke-width="4.0"/><path d="M932.9,608.2L943.5,638.4" stroke-width="4.1"/><path d="M943.5,638.4L954.1,666.4" stroke-width="7.7"/><path d="M954.1,666.4L964.6,692.7" stroke-width="10.8"/><path d="M964.6,692.7L975.2,717.5" stroke-width="13.4"/><path d="M975.2,717.5L985.8,741.0" stroke-width="15.6"/><path d="M985.8,741.0L996.4,763.4" stroke-width="17.5"/><path d="M996.4,763.4L1007.0,784.8" stroke-width="19.1"/><path d="M1007.0,784.8L1017.6,805.2" stroke-width="20.7"/><path d="M1017.6,805.2L1028.2,824.7" stroke-width="22.3"/><path d="M1028.2,824.7L1038.8,843.1" stroke-width="24.0"/><path d="M1038.8,843.1L1049.4,860.5" stroke-width="25.6"/><path d="M1049.4,860.5L1060.0,876.9" stroke-width="27.2"/><path d="M1060.0,876.9L1070.6,892.3" stroke-width="28.7"/><path d="M1070.6,892.3L1081.2,906.8" stroke-width="30.0"/><path d="M1081.2,906.8L1091.8,920.4" stroke-width="30.0"/><path d="M1091.8,920.4L1102.4,933.1" stroke-width="30.0"/><path d="M1102.4,933.1L1113.0,945.0" stroke-width="30.0"/><path d="M1113.0,945.0L1123.6,956.2" stroke-width="30.0"/><path d="M1123.6,956.2L1134.2,966.8" stroke-width="30.0"/><path d="M1134.2,966.8L1144.8,976.7" stroke-width="30.0"/><path d="M1144.8,976.7L1155.4,986.2" stroke-width="30.0"/><path d="M1155.4,986.2L1166.0,995.1" stroke-width="30.0"/><path d="M1166.0,995.1L1176.5,1003.5" stroke-width="30.0"/><path d="M1176.5,1003.5L1187.1,1011.5" stroke-width="30.0"/><path d="M1187.1,1011.5L1197.7,1019.1" stroke-width="30.0"/><path d="M1197.7,1019.1L1208.3,1026.3" stroke-width="30.0"/><path d="M1208.3,1026.3L1218.9,1033.1" stroke-width="30.0"/><path d="M1218.9,1033.1L1229.5,1039.5" stroke-width="30.0"/><path d="M1229.5,1039.5L1240.1,1045.5" stroke-width="30.0"/><path d="M1240.1,1045.5L1250.7,1051.2" stroke-width="30.0"/><path d="M1250.7,1051.2L1261.3,1056.6" stroke-width="30.0"/><path d="M1261.3,1056.6L1271.9,1061.7" stroke-width="30.0"/><path d="M1271.9,1061.7L1282.5,1066.4" stroke-width="30.0"/><path d="M1282.5,1066.4L1293.1,1070.9" stroke-width="30.0"/><path d="M1293.1,1070.9L1303.7,1075.2" stroke-width="30.0"/><path d="M1303.7,1075.2L1314.3,1079.1" stroke-width="30.0"/><path d="M1314.3,1079.1L1324.9,1082.9" stroke-width="30.0"/><path d="M1324.9,1082.9L1335.5,1086.4" stroke-width="30.0"/><path d="M1335.5,1086.4L1346.1,1089.7" stroke-width="30.0"/><path d="M1346.1,1089.7L1356.7,1092.7" stroke-width="30.0"/><path d="M1356.7,1092.7L1367.3,1095.6" stroke-width="30.0"/><path d="M1367.3,1095.6L1377.9,1098.3" stroke-width="30.0"/><path d="M1377.9,1098.3L1388.4,1100.8" stroke-width="30.0"/><path d="M1388.4,1100.8L1399.0,1103.2" stroke-width="30.0"/><path d="M1399.0,1103.2L1409.6,1105.4" stroke-width="30.0"/><path d="M1409.6,1105.4L1420.2,1107.4" stroke-width="30.0"/><path d="M1420.2,1107.4L1430.8,1109.3" stroke-width="30.0"/><path d="M1430.8,1109.3L1441.4,1111.0" stroke-width="30.0"/><path d="M1441.4,1111.0L1452.0,1112.6" stroke-width="30.0"/><path d="M1452.0,1112.6L1462.6,1114.1" stroke-width="30.0"/><path d="M1462.6,1114.1L1473.2,1115.5" stroke-width="30.0"/><path d="M1473.2,1115.5L1483.8,1116.7" stroke-width="30.0"/><path d="M1483.8,1116.7L1494.4,1117.8" stroke-width="30.0"/><path d="M1494.4,1117.8L1505.0,1118.9" stroke-width="30.0"/><path d="M1505.0,1118.9L1515.6,1119.8" stroke-width="30.0"/><path d="M1515.6,1119.8L1526.2,1120.6" stroke-width="30.0"/><path d="M1526.2,1120.6L1536.8,1121.4" stroke-width="30.0"/><path d="M1536.8,1121.4L1547.4,1122.0" stroke-width="30.0"/><path d="M1547.4,1122.0L1558.0,1122.6" stroke-width="30.0"/><path d="M1558.0,1122.6L1568.6,1123.1" stroke-width="30.0"/><path d="M1568.6,1123.1L1579.2,1123.5" stroke-width="30.0"/><path d="M1579.2,1123.5L1589.8,1123.9" stroke-width="30.0"/><path d="M1589.8,1123.9L1600.3,1124.1" stroke-width="30.0"/><path d="M1600.3,1124.1L1610.9,1124.4" stroke-width="30.0"/><path d="M1610.9,1124.4L1621.5,1124.6" stroke-width="30.0"/><path d="M1621.5,1124.6L1632.1,1124.7" stroke-width="30.0"/><path d="M1632.1,1124.7L1642.7,1124.8" stroke-width="30.0"/><path d="M1642.7,1124.8L1653.3,1124.8" stroke-width="30.0"/><path d="M1653.3,1124.8L1663.9,1124.8" stroke-width="30.0"/><path d="M1663.9,1124.8L1674.5,1124.7" stroke-width="30.0"/><path d="M1674.5,1124.7L1685.1,1124.7" stroke-width="30.0"/><path d="M1685.1,1124.7L1695.7,1124.5" stroke-width="30.0"/><path d="M1695.7,1124.5L1706.3,1124.4" stroke-width="30.0"/><path d="M1706.3,1124.4L1716.9,1124.2" stroke-width="30.0"/><path d="M1716.9,1124.2L1727.5,1124.1" stroke-width="30.0"/><path d="M1727.5,1124.1L1738.1,1123.9" stroke-width="30.0"/><path d="M1738.1,1123.9L1748.7,1123.7" stroke-width="30.0"/><path d="M1748.7,1123.7L1759.3,1123.4" stroke-width="30.0"/><path d="M1759.3,1123.4L1769.9,1123.2" stroke-width="30.0"/><path d="M1769.9,1123.2L1780.5,1123.0" stroke-width="30.0"/><path d="M1780.5,1123.0L1791.1,1122.7" stroke-width="30.0"/><path d="M1791.1,1122.7L1801.7,1122.5" stroke-width="30.0"/><path d="M1801.7,1122.5L1812.2,1122.3" stroke-width="30.0"/><path d="M1812.2,1122.3L1822.8,1122.1" stroke-width="30.0"/><path d="M1822.8,1122.1L1833.4,1121.9" stroke-width="30.0"/><path d="M1833.4,1121.9L1844.0,1121.7" stroke-width="30.0"/><path d="M1844.0,1121.7L1854.6,1121.5" stroke-width="30.0"/><path d="M1854.6,1121.5L1865.2,1121.4" stroke-width="30.0"/><path d="M1865.2,1121.4L1875.8,1121.3" stroke-width="30.0"/><path d="M1875.8,1121.3L1886.4,1121.2" stroke-width="30.0"/><path d="M1886.4,1121.2L1897.0,1121.2" stroke-width="30.0"/><path d="M1897.0,1121.2L1907.6,1121.2" stroke-width="30.0"/><path d="M1907.6,1121.2L1918.2,1121.2" stroke-width="30.0"/><path d="M1918.2,1121.2L1928.8,1121.3" stroke-width="30.0"/><path d="M1928.8,1121.3L1939.4,1121.5" stroke-width="30.0"/><path d="M1939.4,1121.5L1950.0,1121.7" stroke-width="30.0"/><path d="M1950.0,1121.7L1960.6,1121.9" stroke-width="30.0"/><path d="M1960.6,1121.9L1971.2,1122.2" stroke-width="30.0"/><path d="M1971.2,1122.2L1981.8,1122.6" stroke-width="30.0"/><path d="M1981.8,1122.6L1992.4,1123.1" stroke-width="30.0"/><path d="M1992.4,1123.1L2003.0,1123.6" stroke-width="30.0"/><path d="M2003.0,1123.6L2013.6,1124.2" stroke-width="30.0"/><path d="M2013.6,1124.2L2024.1,1124.9" stroke-width="30.0"/></g><g fill="#FFFF00"><circle cx="637.0" cy="144.4" r="15.0"/><circle cx="646.8" cy="143.8" r="15.0"/><circle cx="657.4" cy="143.6" r="15.0"/><circle cx="668.0" cy="143.9" r="15.0"/><circle cx="678.6" cy="144.8" r="15.0"/><circle cx="689.2" cy="146.3" r="15.0"/><circle cx="699.8" cy="148.3" r="15.0"/><circle cx="710.4" cy="151.0" r="15.0"/><circle cx="721.0" cy="154.3" r="15.0"/><circle cx="731.6" cy="158.5" r="15.0"/><circle cx="742.2" cy="163.4" r="15.0"/><circle cx="752.7" cy="169.3" r="15.0"/><circle cx="763.3" cy="176.4" r="15.0"/><circle cx="773.9" cy="184.7" r="15.0"/><circle cx="784.5" cy="194.7" r="15.0"/><circle cx="795.1" cy="206.4" r="15.0"/><circle cx="805.7" cy="220.1" r="15.0"/><circle cx="816.3" cy="236.3" r="15.0"/><circle cx="826.9" cy="255.3" r="15.0"/><circle cx="837.5" cy="277.7" r="15.0"/><circle cx="848.1" cy="304.3" r="15.0"/><circle cx="858.7" cy="335.9" r="15.0"/><circle cx="869.3" cy="373.2" r="15.0"/><circle cx="879.9" cy="415.7" r="15.0"/><circle cx="890.5" cy="460.1" r="15.0"/><circle cx="901.1" cy="502.0" r="15.0"/><circle cx="911.7" cy="540.4" r="15.0"/><circle cx="922.3" cy="575.7" r="15.0"/><circle cx="932.9" cy="608.2" r="15.0"/><circle cx="943.5" cy="638.4" r="15.0"/><circle cx="954.1" cy="666.4" r="15.0"/><circle cx="964.6" cy="692.7" r="15.0"/><circle cx="975.2" cy="717.5" r="15.0"/><circle cx="985.8" cy="741.0" r="15.0"/><circle cx="996.4" cy="763.4" r="15.0"/><circle cx="1007.0" cy="784.8" r="15.0"/><circle cx="1017.6" cy="805.2" r="15.0"/><circle cx="1028.2" cy="824.7" r="15.0"/><circle cx="1038.8" cy="843.1" r="15.0"/><circle cx="1049.4" cy="860.5" r="15.0"/><circle cx="1060.0" cy="876.9" r="15.0"/><circle cx="1070.6" cy="892.3" r="15.0"/><circle cx="1081.2" cy="906.8" r="15.0"/><circle cx="1091.8" cy="920.4" r="15.0"/><circle cx="1102.4" cy="933.1" r="15.0"/><circle cx="1113.0" cy="945.0" r="15.0"/><circle cx="1123.6" cy="956.2" r="15.0"/><circle cx="1134.2" cy="966.8" r="15.0"/><circle cx="1144.8" cy="976.7" r="15.0"/><circle cx="1155.4" cy="986.2" r="15.0"/><circle cx="1166.0" cy="995.1" r="15.0"/><circle cx="1176.5" cy="1003.5" r="15.0"/><circle cx="1187.1" cy="1011.5" r="15.0"/><circle cx="1197.7" cy="1019.1" r="15.0"/><circle cx="1208.3" cy="1026.3" r="15.0"/><circle cx="1218.9" cy="1033.1" r="15.0"/><circle cx="1229.5" cy="1039.5" r="15.0"/><circle cx="1240.1" cy="1045.5" r="15.0"/><circle cx="1250.7" cy="1051.2" r="15.0"/><circle cx="1261.3" cy="1056.6" r="15.0"/><circle cx="1271.9" cy="1061.7" r="15.0"/><circle cx="1282.5" cy="1066.4" r="15.0"/><circle cx="1293.1" cy="1070.9" r="15.0"/><circle cx="1303.7" cy="1075.2" r="15.0"/><circle cx="1314.3" cy="1079.1" r="15.0"/><circle cx="1324.9" cy="1082.9" r="15.0"/><circle cx="1335.5" cy="1086.4" r="15.0"/><circle cx="1346.1" cy="1089.7" r="15.0"/><circle cx="1356.7" cy="1092.7" r="15.0"/><circle cx="1367.3" cy="1095.6" r="15.0"/><circle cx="1377.9" cy="1098.3" r="15.0"/><circle cx="1388.4" cy="1100.8" r="15.0"/><circle cx="1399.0" cy="1103.2" r="15.0"/><circle cx="1409.6" cy="1105.4" r="15.0"/><circle cx="1420.2" cy="1107.4" r="15.0"/><circle cx="1430.8" cy="1109.3" r="15.0"/><circle cx="1441.4" cy="1111.0" r="15.0"/><circle cx="1452.0" cy="1112.6" r="15.0"/><circle cx="1462.6" cy="1114.1" r="15.0"/><circle cx="1473.2" cy="1115.5" r="15.0"/><circle cx="1483.8" cy="1116.7" r="15.0"/><circle cx="1494.4" cy="1117.8" r="15.0"/><circle cx="1505.0" cy="1118.9" r="15.0"/><circle cx="1515.6" cy="1119.8" r="15.0"/><circle cx="1526.2" cy="1120.6" r="15.0"/><circle cx="1536.8" cy="1121.4" r="15.0"/><circle cx="1547.4" cy="1122.0" r="15.0"/><circle cx="1558.0" cy="1122.6" r="15.0"/><circle cx="1568.6" cy="1123.1" r="15.0"/><circle cx="1579.2" cy="1123.5" r="15.0"/><circle cx="1589.8" cy="1123.9" r="15.0"/><circle cx="1600.3" cy="1124.1" r="15.0"/><circle cx="1610.9" cy="1124.4" r="15.0"/><circle cx="1621.5" cy="1124.6" r="15.0"/><circle cx="1632.1" cy="1124.7" r="15.0"/><circle cx="1642.7" cy="1124.8" r="15.0"/><circle cx="1653.3" cy="1124.8" r="15.0"/><circle cx="1663.9" cy="1124.8" r="15.0"/><circle cx="1674.5" cy="1124.7" r="15.0"/><circle cx="1685.1" cy="1124.7" r="15.0"/><circle cx="1695.7" cy="1124.5" r="15.0"/><circle cx="1706.3" cy="1124.4" r="15.0"/><circle cx="1716.9" cy="1124.2" r="15.0"/><circle cx="1727.5" cy="1124.1" r="15.0"/><circle cx="1738.1" cy="1123.9" r="15.0"/><circle cx="1748.7" cy="1123.7" r="15.0"/><circle cx="1759.3" cy="1123.4" r="15.0"/><circle cx="1769.9" cy="1123.2" r="15.0"/><circle cx="1780.5" cy="1123.0" r="15.0"/><circle cx="1791.1" cy="1122.7" r="15.0"/><circle cx="1801.7" cy="1122.5" r="15.0"/><circle cx="1812.2" cy="1122.3" r="15.0"/><circle cx="1822.8" cy="1122.1" r="15.0"/><circle cx="1833.4" cy="1121.9" r="15.0"/><circle cx="1844.0" cy="1121.7" r="15.0"/><circle cx="1854.6" cy="1121.5" r="15.0"/><circle cx="1865.2" cy="1121.4" r="15.0"/><circle cx="1875.8" cy="1121.3" r="15.0"/><circle cx="1886.4" cy="1121.2" r="15.0"/><circle cx="1897.0" cy="1121.2" r="15.0"/><circle cx="1907.6" cy="1121.2" r="15.0"/><circle cx="1918.2" cy="1121.2" r="15.0"/><circle cx="1928.8" cy="1121.3" r="15.0"/><circle cx="1939.4" cy="1121.5" r="15.0"/><circle cx="1950.0" cy="1121.7" r="15.0"/><circle cx="1960.6" cy="1121.9" r="15.0"/><circle cx="1971.2" cy="1122.2" r="15.0"/><circle cx="1981.8" cy="1122.6" r="15.0"/><circle cx="1992.4" cy="1123.1" r="15.0"/><circle cx="2003.0" cy="1123.6" r="15.0"/><circle cx="2013.6" cy="1124.2" r="15.0"/><circle cx="2024.1" cy="1124.9" r="15.0"/></g></g>
<rect x="479.5" y="77.5" width="1761.0" height="1425.5" fill="none" stroke="#000" stroke-width="5.5"/><path d="M533.8,1503.0 V1531.0 M533.8,77.5 V105.5 M640.5,1503.0 V1515.0 M640.5,77.5 V89.5 M747.2,1503.0 V1531.0 M747.2,77.5 V105.5 M853.9,1503.0 V1515.0 M853.9,77.5 V89.5 M960.6,1503.0 V1531.0 M960.6,77.5 V105.5 M1067.3,1503.0 V1515.0 M1067.3,77.5 V89.5 M1174.0,1503.0 V1531.0 M1174.0,77.5 V105.5 M1280.7,1503.0 V1515.0 M1280.7,77.5 V89.5 M1387.4,1503.0 V1531.0 M1387.4,77.5 V105.5 M1494.1,1503.0 V1515.0 M1494.1,77.5 V89.5 M1600.8,1503.0 V1531.0 M1600.8,77.5 V105.5 M1707.5,1503.0 V1515.0 M1707.5,77.5 V89.5 M1814.2,1503.0 V1531.0 M1814.2,77.5 V105.5 M1920.9,1503.0 V1515.0 M1920.9,77.5 V89.5 M2027.6,1503.0 V1531.0 M2027.6,77.5 V105.5 M2134.3,1503.0 V1515.0 M2134.3,77.5 V89.5 M2241.0,1503.0 V1531.0 M2241.0,77.5 V105.5 M479.5,1503.0 H448.5 M2240.5,1503.0 H2213.5 M479.5,1417.2 H465.5 M2240.5,1417.2 H2226.5 M479.5,1367.0 H465.5 M2240.5,1367.0 H2226.5 M479.5,1331.4 H465.5 M2240.5,1331.4 H2226.5 M479.5,1303.8 H465.5 M2240.5,1303.8 H2226.5 M479.5,1281.2 H465.5 M2240.5,1281.2 H2226.5 M479.5,1262.1 H465.5 M2240.5,1262.1 H2226.5 M479.5,1245.6 H465.5 M2240.5,1245.6 H2226.5 M479.5,1231.0 H465.5 M2240.5,1231.0 H2226.5 M479.5,1218.0 H448.5 M2240.5,1218.0 H2213.5 M479.5,1132.2 H465.5 M2240.5,1132.2 H2226.5 M479.5,1082.0 H465.5 M2240.5,1082.0 H2226.5 M479.5,1046.4 H465.5 M2240.5,1046.4 H2226.5 M479.5,1018.8 H465.5 M2240.5,1018.8 H2226.5 M479.5,996.2 H465.5 M2240.5,996.2 H2226.5 M479.5,977.1 H465.5 M2240.5,977.1 H2226.5 M479.5,960.6 H465.5 M2240.5,960.6 H2226.5 M479.5,946.0 H465.5 M2240.5,946.0 H2226.5 M479.5,933.0 H448.5 M2240.5,933.0 H2213.5 M479.5,847.2 H465.5 M2240.5,847.2 H2226.5 M479.5,797.0 H465.5 M2240.5,797.0 H2226.5 M479.5,761.4 H465.5 M2240.5,761.4 H2226.5 M479.5,733.8 H465.5 M2240.5,733.8 H2226.5 M479.5,711.2 H465.5 M2240.5,711.2 H2226.5 M479.5,692.1 H465.5 M2240.5,692.1 H2226.5 M479.5,675.6 H465.5 M2240.5,675.6 H2226.5 M479.5,661.0 H465.5 M2240.5,661.0 H2226.5 M479.5,648.0 H448.5 M2240.5,648.0 H2213.5 M479.5,562.2 H465.5 M2240.5,562.2 H2226.5 M479.5,512.0 H465.5 M2240.5,512.0 H2226.5 M479.5,476.4 H465.5 M2240.5,476.4 H2226.5 M479.5,448.8 H465.5 M2240.5,448.8 H2226.5 M479.5,426.2 H465.5 M2240.5,426.2 H2226.5 M479.5,407.1 H465.5 M2240.5,407.1 H2226.5 M479.5,390.6 H465.5 M2240.5,390.6 H2226.5 M479.5,376.0 H465.5 M2240.5,376.0 H2226.5 M479.5,363.0 H448.5 M2240.5,363.0 H2213.5 M479.5,277.2 H465.5 M2240.5,277.2 H2226.5 M479.5,227.0 H465.5 M2240.5,227.0 H2226.5 M479.5,191.4 H465.5 M2240.5,191.4 H2226.5 M479.5,163.8 H465.5 M2240.5,163.8 H2226.5 M479.5,141.2 H465.5 M2240.5,141.2 H2226.5 M479.5,122.1 H465.5 M2240.5,122.1 H2226.5 M479.5,105.6 H465.5 M2240.5,105.6 H2226.5 M479.5,91.0 H465.5 M2240.5,91.0 H2226.5 M479.5,78.0 H448.5 M2240.5,78.0 H2213.5" stroke="#000" stroke-width="5" fill="none"/>
<text y="1530.4" font-family="Liberation Serif, serif" font-weight="normal" font-size="88" stroke="#000" stroke-width="2"><tspan x="265">1</tspan><tspan x="313">0</tspan></text><text x="359.5" y="1503.2" font-family="Liberation Serif, serif" font-weight="normal" font-size="54" stroke="#000" stroke-width="0.8">4</text><text y="1229.5" font-family="Liberation Serif, serif" font-weight="normal" font-size="88" stroke="#000" stroke-width="2"><tspan x="265">1</tspan><tspan x="313">0</tspan></text><text x="359.5" y="1202.6" font-family="Liberation Serif, serif" font-weight="normal" font-size="54" stroke="#000" stroke-width="0.8">5</text><text y="957.1" font-family="Liberation Serif, serif" font-weight="normal" font-size="88" stroke="#000" stroke-width="2"><tspan x="265">1</tspan><tspan x="313">0</tspan></text><text x="359.5" y="930.2" font-family="Liberation Serif, serif" font-weight="normal" font-size="54" stroke="#000" stroke-width="0.8">6</text><text y="680.4" font-family="Liberation Serif, serif" font-weight="normal" font-size="88" stroke="#000" stroke-width="2"><tspan x="265">1</tspan><tspan x="313">0</tspan></text><text x="359.5" y="653.5" font-family="Liberation Serif, serif" font-weight="normal" font-size="54" stroke="#000" stroke-width="0.8">7</text><text y="379.7" font-family="Liberation Serif, serif" font-weight="normal" font-size="88" stroke="#000" stroke-width="2"><tspan x="265">1</tspan><tspan x="313">0</tspan></text><text x="359.5" y="352.8" font-family="Liberation Serif, serif" font-weight="normal" font-size="54" stroke="#000" stroke-width="0.8">8</text><text y="111.6" font-family="Liberation Serif, serif" font-weight="normal" font-size="88" stroke="#000" stroke-width="2"><tspan x="265">1</tspan><tspan x="313">0</tspan></text><text x="359.5" y="84.6" font-family="Liberation Serif, serif" font-weight="normal" font-size="54" stroke="#000" stroke-width="0.8">9</text><text x="533.8" y="1608" text-anchor="middle" font-family="Liberation Sans, Arial, sans-serif" font-weight="bold" font-size="72.6">-60</text><text x="747.2" y="1608" text-anchor="middle" font-family="Liberation Sans, Arial, sans-serif" font-weight="bold" font-size="72.6">-40</text><text x="960.6" y="1608" text-anchor="middle" font-family="Liberation Sans, Arial, sans-serif" font-weight="bold" font-size="72.6">-20</text><text x="1174.0" y="1608" text-anchor="middle" font-family="Liberation Sans, Arial, sans-serif" font-weight="bold" font-size="72.6">0</text><text x="1387.4" y="1608" text-anchor="middle" font-family="Liberation Sans, Arial, sans-serif" font-weight="bold" font-size="72.6">20</text><text x="1600.8" y="1608" text-anchor="middle" font-family="Liberation Sans, Arial, sans-serif" font-weight="bold" font-size="72.6">40</text><text x="1814.2" y="1608" text-anchor="middle" font-family="Liberation Sans, Arial, sans-serif" font-weight="bold" font-size="72.6">60</text><text x="2027.6" y="1608" text-anchor="middle" font-family="Liberation Sans, Arial, sans-serif" font-weight="bold" font-size="72.6">80</text><text x="2241.0" y="1608" text-anchor="middle" font-family="Liberation Sans, Arial, sans-serif" font-weight="bold" font-size="72.6">100</text><text transform="translate(1358.5,1740) scale(0.965,1)" text-anchor="middle" font-family="Liberation Sans, Arial, sans-serif" font-weight="bold" font-size="83">T / °C</text><text transform="translate(114,790) rotate(-90) scale(0.955,1)" text-anchor="middle" font-family="Liberation Sans, Arial, sans-serif" font-weight="bold" font-size="83">G' / Pa</text>
</svg>
</body></html>
